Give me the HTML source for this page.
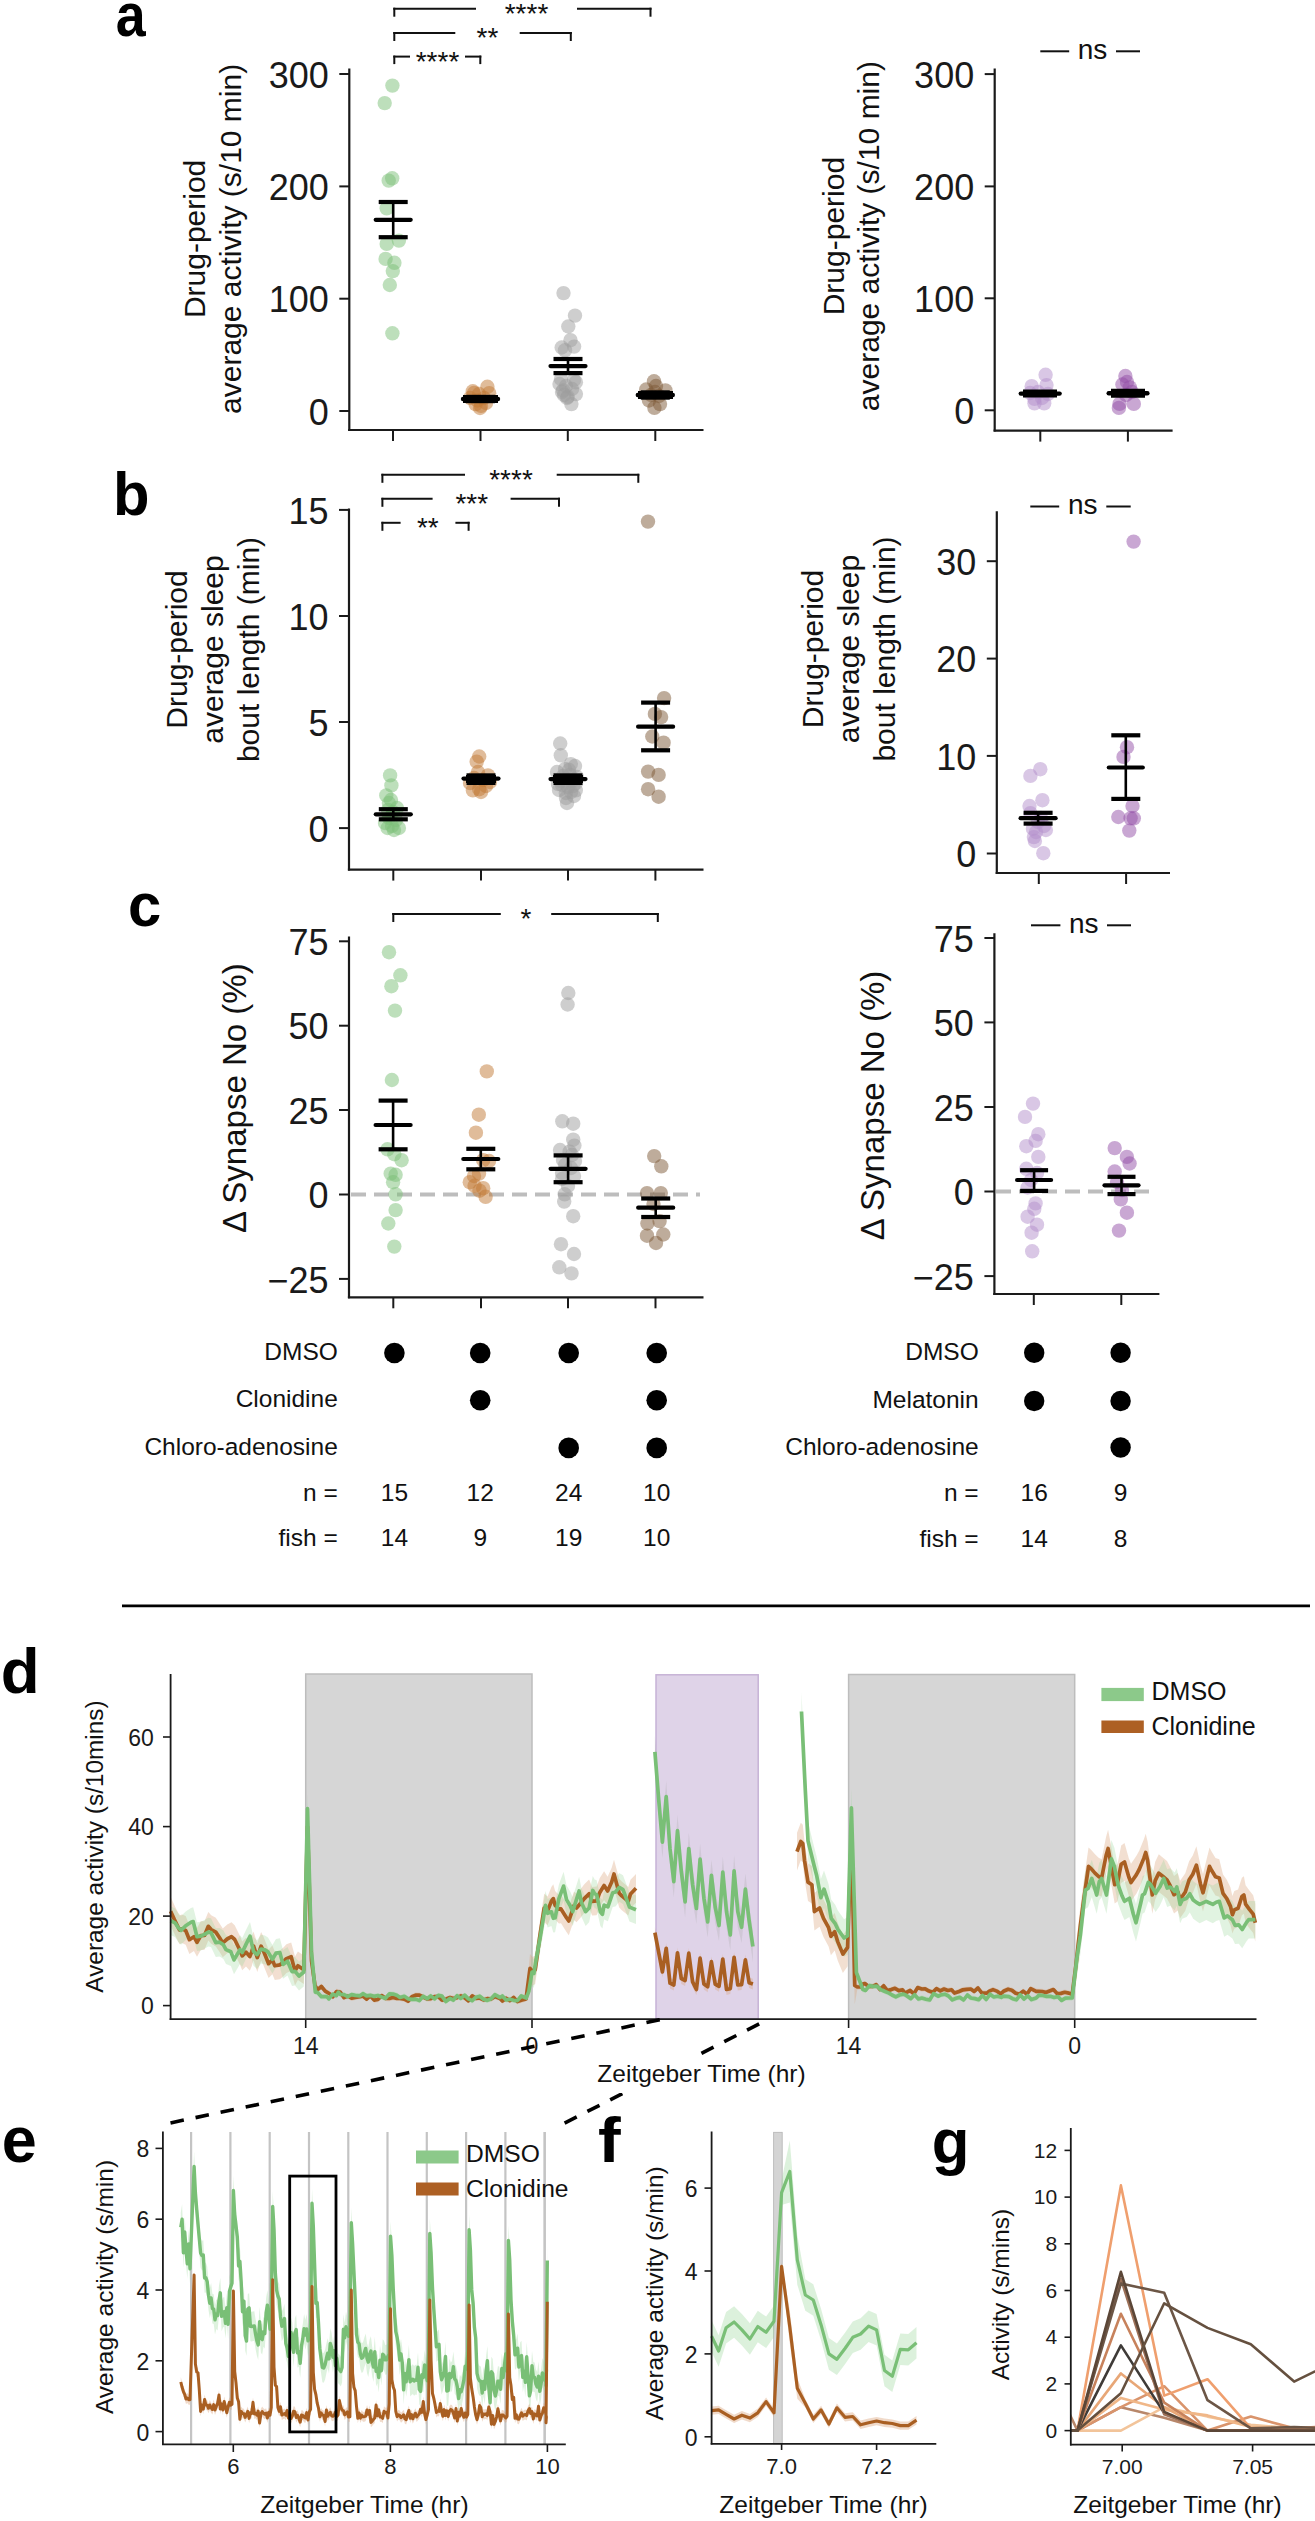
<!DOCTYPE html>
<html><head><meta charset="utf-8"><style>
html,body{margin:0;padding:0;background:#fff;width:1315px;height:2521px;overflow:hidden}
svg{display:block}
text{font-family:"Liberation Sans", sans-serif}
</style></head><body>
<svg width="1315" height="2521" viewBox="0 0 1315 2521">
<rect width="1315" height="2521" fill="#fff"/>
<text transform="translate(115.7,36.2) scale(0.875,1)" font-size="61.4" font-weight="bold" fill="#000">a</text>
<line x1="349.3" y1="68.5" x2="349.3" y2="431" stroke="#1a1a1a" stroke-width="2.2" stroke-linecap="butt" />
<line x1="348.2" y1="430" x2="703.5" y2="430" stroke="#1a1a1a" stroke-width="2.2" stroke-linecap="butt" />
<line x1="339.3" y1="74" x2="349.3" y2="74" stroke="#1a1a1a" stroke-width="2" stroke-linecap="butt" />
<text x="328.8" y="87.7" font-size="36" text-anchor="end" font-weight="normal" fill="#1a1a1a" >300</text>
<line x1="339.3" y1="186.4" x2="349.3" y2="186.4" stroke="#1a1a1a" stroke-width="2" stroke-linecap="butt" />
<text x="328.8" y="200.1" font-size="36" text-anchor="end" font-weight="normal" fill="#1a1a1a" >200</text>
<line x1="339.3" y1="298.7" x2="349.3" y2="298.7" stroke="#1a1a1a" stroke-width="2" stroke-linecap="butt" />
<text x="328.8" y="312.4" font-size="36" text-anchor="end" font-weight="normal" fill="#1a1a1a" >100</text>
<line x1="339.3" y1="411" x2="349.3" y2="411" stroke="#1a1a1a" stroke-width="2" stroke-linecap="butt" />
<text x="328.8" y="424.7" font-size="36" text-anchor="end" font-weight="normal" fill="#1a1a1a" >0</text>
<line x1="393" y1="430" x2="393" y2="441" stroke="#1a1a1a" stroke-width="2" stroke-linecap="butt" />
<line x1="480.5" y1="430" x2="480.5" y2="441" stroke="#1a1a1a" stroke-width="2" stroke-linecap="butt" />
<line x1="567.8" y1="430" x2="567.8" y2="441" stroke="#1a1a1a" stroke-width="2" stroke-linecap="butt" />
<line x1="655.3" y1="430" x2="655.3" y2="441" stroke="#1a1a1a" stroke-width="2" stroke-linecap="butt" />
<text transform="translate(204.9,238.9) rotate(-90)" font-size="30" text-anchor="middle" font-weight="normal" fill="#111" >Drug-period</text>
<text transform="translate(240.6,238.9) rotate(-90)" font-size="30" text-anchor="middle" font-weight="normal" fill="#111" >average activity (s/10 min)</text>
<line x1="394.3" y1="16.7" x2="394.3" y2="7.7" stroke="#111" stroke-width="2" stroke-linecap="butt" />
<line x1="393.3" y1="8.7" x2="476" y2="8.7" stroke="#111" stroke-width="2" stroke-linecap="butt" />
<line x1="577" y1="8.7" x2="651.5" y2="8.7" stroke="#111" stroke-width="2" stroke-linecap="butt" />
<line x1="650.5" y1="7.7" x2="650.5" y2="16.7" stroke="#111" stroke-width="2" stroke-linecap="butt" />
<text x="526.5" y="22.6" font-size="28" text-anchor="middle" font-weight="normal" fill="#111" >****</text>
<line x1="394.3" y1="41" x2="394.3" y2="32" stroke="#111" stroke-width="2" stroke-linecap="butt" />
<line x1="393.3" y1="33" x2="455.3" y2="33" stroke="#111" stroke-width="2" stroke-linecap="butt" />
<line x1="519.7" y1="33" x2="571.8" y2="33" stroke="#111" stroke-width="2" stroke-linecap="butt" />
<line x1="570.8" y1="32" x2="570.8" y2="41" stroke="#111" stroke-width="2" stroke-linecap="butt" />
<text x="487.5" y="46.9" font-size="28" text-anchor="middle" font-weight="normal" fill="#111" >**</text>
<line x1="394.3" y1="64.1" x2="394.3" y2="55.6" stroke="#111" stroke-width="2" stroke-linecap="butt" />
<line x1="393.3" y1="56.6" x2="410" y2="56.6" stroke="#111" stroke-width="2" stroke-linecap="butt" />
<line x1="465" y1="56.6" x2="481.3" y2="56.6" stroke="#111" stroke-width="2" stroke-linecap="butt" />
<line x1="480.3" y1="55.6" x2="480.3" y2="64.1" stroke="#111" stroke-width="2" stroke-linecap="butt" />
<text x="437.5" y="70.5" font-size="28" text-anchor="middle" font-weight="normal" fill="#111" >****</text>
<circle cx="392.4" cy="85.6" r="7.2" fill="#7cbf78" fill-opacity="0.5"/>
<circle cx="384.7" cy="103.1" r="7.2" fill="#7cbf78" fill-opacity="0.5"/>
<circle cx="392.2" cy="178.3" r="7.2" fill="#7cbf78" fill-opacity="0.5"/>
<circle cx="388.7" cy="180.6" r="7.2" fill="#7cbf78" fill-opacity="0.5"/>
<circle cx="386.7" cy="208.3" r="7.2" fill="#7cbf78" fill-opacity="0.5"/>
<circle cx="386.7" cy="243.9" r="7.2" fill="#7cbf78" fill-opacity="0.5"/>
<circle cx="398.9" cy="240.6" r="7.2" fill="#7cbf78" fill-opacity="0.5"/>
<circle cx="385.6" cy="258.9" r="7.2" fill="#7cbf78" fill-opacity="0.5"/>
<circle cx="394.4" cy="262.8" r="7.2" fill="#7cbf78" fill-opacity="0.5"/>
<circle cx="392.8" cy="271.1" r="7.2" fill="#7cbf78" fill-opacity="0.5"/>
<circle cx="389.8" cy="285" r="7.2" fill="#7cbf78" fill-opacity="0.5"/>
<circle cx="392.4" cy="333.3" r="7.2" fill="#7cbf78" fill-opacity="0.5"/>
<line x1="393.2" y1="237.2" x2="393.2" y2="202" stroke="#000" stroke-width="2.6" stroke-linecap="butt" />
<line x1="378.7" y1="237.2" x2="407.7" y2="237.2" stroke="#000" stroke-width="4.2" stroke-linecap="butt" />
<line x1="378.7" y1="202" x2="407.7" y2="202" stroke="#000" stroke-width="4.2" stroke-linecap="butt" />
<line x1="375.7" y1="219.8" x2="410.7" y2="219.8" stroke="#000" stroke-width="4.2" stroke-linecap="round" />
<circle cx="472.8" cy="391.3" r="7.2" fill="#c27a35" fill-opacity="0.5"/>
<circle cx="487.4" cy="386.8" r="7.2" fill="#c27a35" fill-opacity="0.5"/>
<circle cx="477.4" cy="400.5" r="7.2" fill="#c27a35" fill-opacity="0.5"/>
<circle cx="489.2" cy="393.2" r="7.2" fill="#c27a35" fill-opacity="0.5"/>
<circle cx="481" cy="405.9" r="7.2" fill="#c27a35" fill-opacity="0.5"/>
<circle cx="475.6" cy="404.1" r="7.2" fill="#c27a35" fill-opacity="0.5"/>
<circle cx="470" cy="398" r="7.2" fill="#c27a35" fill-opacity="0.5"/>
<circle cx="484" cy="398" r="7.2" fill="#c27a35" fill-opacity="0.5"/>
<circle cx="479" cy="394" r="7.2" fill="#c27a35" fill-opacity="0.5"/>
<circle cx="486" cy="403" r="7.2" fill="#c27a35" fill-opacity="0.5"/>
<circle cx="474" cy="393" r="7.2" fill="#c27a35" fill-opacity="0.5"/>
<circle cx="480" cy="408" r="7.2" fill="#c27a35" fill-opacity="0.5"/>
<line x1="480.5" y1="401" x2="480.5" y2="397" stroke="#000" stroke-width="2.6" stroke-linecap="butt" />
<line x1="466" y1="401" x2="495" y2="401" stroke="#000" stroke-width="4.4" stroke-linecap="butt" />
<line x1="466" y1="397" x2="495" y2="397" stroke="#000" stroke-width="4.4" stroke-linecap="butt" />
<line x1="463" y1="399" x2="498" y2="399" stroke="#000" stroke-width="4.4" stroke-linecap="round" />
<line x1="463" y1="399" x2="498" y2="399" stroke="#000" stroke-width="8" stroke-linecap="butt" />
<circle cx="563.5" cy="293.1" r="7.2" fill="#9e9e9e" fill-opacity="0.5"/>
<circle cx="575" cy="315.6" r="7.2" fill="#9e9e9e" fill-opacity="0.5"/>
<circle cx="568.3" cy="326.5" r="7.2" fill="#9e9e9e" fill-opacity="0.5"/>
<circle cx="570.5" cy="340.2" r="7.2" fill="#9e9e9e" fill-opacity="0.5"/>
<circle cx="561.7" cy="347.5" r="7.2" fill="#9e9e9e" fill-opacity="0.5"/>
<circle cx="574.1" cy="346.6" r="7.2" fill="#9e9e9e" fill-opacity="0.5"/>
<circle cx="565" cy="350.3" r="7.2" fill="#9e9e9e" fill-opacity="0.5"/>
<circle cx="559.5" cy="384" r="7.2" fill="#9e9e9e" fill-opacity="0.5"/>
<circle cx="575.9" cy="382.2" r="7.2" fill="#9e9e9e" fill-opacity="0.5"/>
<circle cx="563.2" cy="390.4" r="7.2" fill="#9e9e9e" fill-opacity="0.5"/>
<circle cx="575.9" cy="394.1" r="7.2" fill="#9e9e9e" fill-opacity="0.5"/>
<circle cx="567.7" cy="396.8" r="7.2" fill="#9e9e9e" fill-opacity="0.5"/>
<circle cx="571.4" cy="404.1" r="7.2" fill="#9e9e9e" fill-opacity="0.5"/>
<circle cx="561" cy="379" r="7.2" fill="#9e9e9e" fill-opacity="0.5"/>
<circle cx="566" cy="386" r="7.2" fill="#9e9e9e" fill-opacity="0.5"/>
<circle cx="572" cy="389" r="7.2" fill="#9e9e9e" fill-opacity="0.5"/>
<circle cx="564" cy="395" r="7.2" fill="#9e9e9e" fill-opacity="0.5"/>
<circle cx="567" cy="398" r="7.2" fill="#9e9e9e" fill-opacity="0.5"/>
<circle cx="562" cy="392" r="7.2" fill="#9e9e9e" fill-opacity="0.5"/>
<circle cx="574" cy="380" r="7.2" fill="#9e9e9e" fill-opacity="0.5"/>
<line x1="568" y1="373.1" x2="568" y2="359" stroke="#000" stroke-width="2.6" stroke-linecap="butt" />
<line x1="553.5" y1="373.1" x2="582.5" y2="373.1" stroke="#000" stroke-width="4.2" stroke-linecap="butt" />
<line x1="553.5" y1="359" x2="582.5" y2="359" stroke="#000" stroke-width="4.2" stroke-linecap="butt" />
<line x1="550.5" y1="366.1" x2="585.5" y2="366.1" stroke="#000" stroke-width="4.2" stroke-linecap="round" />
<circle cx="654" cy="381.3" r="7.2" fill="#7d5a38" fill-opacity="0.5"/>
<circle cx="656" cy="386" r="7.2" fill="#7d5a38" fill-opacity="0.5"/>
<circle cx="646.2" cy="389.5" r="7.2" fill="#7d5a38" fill-opacity="0.5"/>
<circle cx="665.4" cy="390.4" r="7.2" fill="#7d5a38" fill-opacity="0.5"/>
<circle cx="649" cy="400.5" r="7.2" fill="#7d5a38" fill-opacity="0.5"/>
<circle cx="660" cy="404.1" r="7.2" fill="#7d5a38" fill-opacity="0.5"/>
<circle cx="654.4" cy="407.8" r="7.2" fill="#7d5a38" fill-opacity="0.5"/>
<circle cx="651" cy="395" r="7.2" fill="#7d5a38" fill-opacity="0.5"/>
<circle cx="659" cy="396" r="7.2" fill="#7d5a38" fill-opacity="0.5"/>
<circle cx="655" cy="392" r="7.2" fill="#7d5a38" fill-opacity="0.5"/>
<line x1="655.3" y1="397.5" x2="655.3" y2="392.5" stroke="#000" stroke-width="2.6" stroke-linecap="butt" />
<line x1="640.8" y1="397.5" x2="669.8" y2="397.5" stroke="#000" stroke-width="4.4" stroke-linecap="butt" />
<line x1="640.8" y1="392.5" x2="669.8" y2="392.5" stroke="#000" stroke-width="4.4" stroke-linecap="butt" />
<line x1="637.8" y1="395" x2="672.8" y2="395" stroke="#000" stroke-width="4.4" stroke-linecap="round" />
<line x1="638" y1="395" x2="673" y2="395" stroke="#000" stroke-width="8" stroke-linecap="butt" />
<line x1="994.7" y1="68.5" x2="994.7" y2="431.6" stroke="#1a1a1a" stroke-width="2.2" stroke-linecap="butt" />
<line x1="993.6" y1="430.6" x2="1172.6" y2="430.6" stroke="#1a1a1a" stroke-width="2.2" stroke-linecap="butt" />
<line x1="984.7" y1="74.1" x2="994.7" y2="74.1" stroke="#1a1a1a" stroke-width="2" stroke-linecap="butt" />
<text x="974.2" y="87.8" font-size="36" text-anchor="end" font-weight="normal" fill="#1a1a1a" >300</text>
<line x1="984.7" y1="186.4" x2="994.7" y2="186.4" stroke="#1a1a1a" stroke-width="2" stroke-linecap="butt" />
<text x="974.2" y="200.1" font-size="36" text-anchor="end" font-weight="normal" fill="#1a1a1a" >200</text>
<line x1="984.7" y1="298.3" x2="994.7" y2="298.3" stroke="#1a1a1a" stroke-width="2" stroke-linecap="butt" />
<text x="974.2" y="312" font-size="36" text-anchor="end" font-weight="normal" fill="#1a1a1a" >100</text>
<line x1="984.7" y1="410.3" x2="994.7" y2="410.3" stroke="#1a1a1a" stroke-width="2" stroke-linecap="butt" />
<text x="974.2" y="424" font-size="36" text-anchor="end" font-weight="normal" fill="#1a1a1a" >0</text>
<line x1="1040.3" y1="430.6" x2="1040.3" y2="441.6" stroke="#1a1a1a" stroke-width="2" stroke-linecap="butt" />
<line x1="1127.9" y1="430.6" x2="1127.9" y2="441.6" stroke="#1a1a1a" stroke-width="2" stroke-linecap="butt" />
<text transform="translate(843.9,236.1) rotate(-90)" font-size="30" text-anchor="middle" font-weight="normal" fill="#111" >Drug-period</text>
<text transform="translate(879.3,236.1) rotate(-90)" font-size="30" text-anchor="middle" font-weight="normal" fill="#111" >average activity (s/10 min)</text>
<line x1="1040.3" y1="51.3" x2="1069.2" y2="51.3" stroke="#111" stroke-width="2" stroke-linecap="butt" />
<line x1="1116" y1="51.3" x2="1140" y2="51.3" stroke="#111" stroke-width="2" stroke-linecap="butt" />
<text x="1092.6" y="58.9" font-size="28" text-anchor="middle" font-weight="normal" fill="#111" >ns</text>
<circle cx="1045.6" cy="374.8" r="7.2" fill="#b490cc" fill-opacity="0.5"/>
<circle cx="1031.7" cy="386.2" r="7.2" fill="#b490cc" fill-opacity="0.5"/>
<circle cx="1046.5" cy="385.1" r="7.2" fill="#b490cc" fill-opacity="0.5"/>
<circle cx="1034.5" cy="398.8" r="7.2" fill="#b490cc" fill-opacity="0.5"/>
<circle cx="1042" cy="398" r="7.2" fill="#b490cc" fill-opacity="0.5"/>
<circle cx="1034.5" cy="403.3" r="7.2" fill="#b490cc" fill-opacity="0.5"/>
<circle cx="1044.2" cy="403.3" r="7.2" fill="#b490cc" fill-opacity="0.5"/>
<circle cx="1038" cy="392" r="7.2" fill="#b490cc" fill-opacity="0.5"/>
<circle cx="1048" cy="394" r="7.2" fill="#b490cc" fill-opacity="0.5"/>
<circle cx="1030" cy="393" r="7.2" fill="#b490cc" fill-opacity="0.5"/>
<line x1="1023" y1="393.6" x2="1057" y2="393.6" stroke="#000" stroke-width="8" stroke-linecap="butt" />
<line x1="1020.8" y1="393.6" x2="1059.6" y2="393.6" stroke="#000" stroke-width="4.4" stroke-linecap="round" />
<circle cx="1125.4" cy="376" r="7.2" fill="#9450a8" fill-opacity="0.5"/>
<circle cx="1127" cy="382" r="7.2" fill="#9450a8" fill-opacity="0.5"/>
<circle cx="1122.4" cy="384.5" r="7.2" fill="#9450a8" fill-opacity="0.5"/>
<circle cx="1129.8" cy="387.4" r="7.2" fill="#9450a8" fill-opacity="0.5"/>
<circle cx="1119.5" cy="403.9" r="7.2" fill="#9450a8" fill-opacity="0.5"/>
<circle cx="1118.9" cy="407.9" r="7.2" fill="#9450a8" fill-opacity="0.5"/>
<circle cx="1133.8" cy="403.9" r="7.2" fill="#9450a8" fill-opacity="0.5"/>
<circle cx="1126" cy="395" r="7.2" fill="#9450a8" fill-opacity="0.5"/>
<circle cx="1132" cy="392" r="7.2" fill="#9450a8" fill-opacity="0.5"/>
<line x1="1111" y1="393.3" x2="1145" y2="393.3" stroke="#000" stroke-width="9" stroke-linecap="butt" />
<line x1="1108.7" y1="393.3" x2="1147.4" y2="393.3" stroke="#000" stroke-width="4.4" stroke-linecap="round" />
<text transform="translate(113,514.8) scale(0.986,1)" font-size="60.6" font-weight="bold" fill="#000">b</text>
<line x1="349" y1="508.5" x2="349" y2="870.6" stroke="#1a1a1a" stroke-width="2.2" stroke-linecap="butt" />
<line x1="347.9" y1="869.6" x2="703.5" y2="869.6" stroke="#1a1a1a" stroke-width="2.2" stroke-linecap="butt" />
<line x1="339" y1="509.9" x2="349" y2="509.9" stroke="#1a1a1a" stroke-width="2" stroke-linecap="butt" />
<text x="328.5" y="523.6" font-size="36" text-anchor="end" font-weight="normal" fill="#1a1a1a" >15</text>
<line x1="339" y1="616" x2="349" y2="616" stroke="#1a1a1a" stroke-width="2" stroke-linecap="butt" />
<text x="328.5" y="629.7" font-size="36" text-anchor="end" font-weight="normal" fill="#1a1a1a" >10</text>
<line x1="339" y1="722" x2="349" y2="722" stroke="#1a1a1a" stroke-width="2" stroke-linecap="butt" />
<text x="328.5" y="735.7" font-size="36" text-anchor="end" font-weight="normal" fill="#1a1a1a" >5</text>
<line x1="339" y1="828.1" x2="349" y2="828.1" stroke="#1a1a1a" stroke-width="2" stroke-linecap="butt" />
<text x="328.5" y="841.8" font-size="36" text-anchor="end" font-weight="normal" fill="#1a1a1a" >0</text>
<line x1="393.3" y1="869.6" x2="393.3" y2="880.6" stroke="#1a1a1a" stroke-width="2" stroke-linecap="butt" />
<line x1="481" y1="869.6" x2="481" y2="880.6" stroke="#1a1a1a" stroke-width="2" stroke-linecap="butt" />
<line x1="568" y1="869.6" x2="568" y2="880.6" stroke="#1a1a1a" stroke-width="2" stroke-linecap="butt" />
<line x1="655.4" y1="869.6" x2="655.4" y2="880.6" stroke="#1a1a1a" stroke-width="2" stroke-linecap="butt" />
<text transform="translate(187.4,649.5) rotate(-90)" font-size="30" text-anchor="middle" font-weight="normal" fill="#111" >Drug-period</text>
<text transform="translate(223,649.5) rotate(-90)" font-size="30" text-anchor="middle" font-weight="normal" fill="#111" >average sleep</text>
<text transform="translate(259.1,649.5) rotate(-90)" font-size="30" text-anchor="middle" font-weight="normal" fill="#111" >bout length (min)</text>
<line x1="382.4" y1="482.8" x2="382.4" y2="473.8" stroke="#111" stroke-width="2" stroke-linecap="butt" />
<line x1="381.4" y1="474.8" x2="465" y2="474.8" stroke="#111" stroke-width="2" stroke-linecap="butt" />
<line x1="556.7" y1="474.8" x2="639.3" y2="474.8" stroke="#111" stroke-width="2" stroke-linecap="butt" />
<line x1="638.3" y1="473.8" x2="638.3" y2="482.8" stroke="#111" stroke-width="2" stroke-linecap="butt" />
<text x="511" y="488.7" font-size="28" text-anchor="middle" font-weight="normal" fill="#111" >****</text>
<line x1="382.4" y1="506.8" x2="382.4" y2="497.8" stroke="#111" stroke-width="2" stroke-linecap="butt" />
<line x1="381.4" y1="498.8" x2="432.6" y2="498.8" stroke="#111" stroke-width="2" stroke-linecap="butt" />
<line x1="510.6" y1="498.8" x2="560" y2="498.8" stroke="#111" stroke-width="2" stroke-linecap="butt" />
<line x1="559" y1="497.8" x2="559" y2="506.8" stroke="#111" stroke-width="2" stroke-linecap="butt" />
<text x="471.8" y="512.7" font-size="28" text-anchor="middle" font-weight="normal" fill="#111" >***</text>
<line x1="382.4" y1="530.8" x2="382.4" y2="521.8" stroke="#111" stroke-width="2" stroke-linecap="butt" />
<line x1="381.4" y1="522.8" x2="400.6" y2="522.8" stroke="#111" stroke-width="2" stroke-linecap="butt" />
<line x1="455.4" y1="522.8" x2="469.6" y2="522.8" stroke="#111" stroke-width="2" stroke-linecap="butt" />
<line x1="468.6" y1="521.8" x2="468.6" y2="530.8" stroke="#111" stroke-width="2" stroke-linecap="butt" />
<text x="427.8" y="536.7" font-size="28" text-anchor="middle" font-weight="normal" fill="#111" >**</text>
<circle cx="390.1" cy="775.4" r="7.2" fill="#7cbf78" fill-opacity="0.5"/>
<circle cx="391.4" cy="785.4" r="7.2" fill="#7cbf78" fill-opacity="0.5"/>
<circle cx="386.3" cy="795.4" r="7.2" fill="#7cbf78" fill-opacity="0.5"/>
<circle cx="388.9" cy="803" r="7.2" fill="#7cbf78" fill-opacity="0.5"/>
<circle cx="387.6" cy="828" r="7.2" fill="#7cbf78" fill-opacity="0.5"/>
<circle cx="398.9" cy="828" r="7.2" fill="#7cbf78" fill-opacity="0.5"/>
<circle cx="393" cy="812" r="7.2" fill="#7cbf78" fill-opacity="0.5"/>
<circle cx="396" cy="820" r="7.2" fill="#7cbf78" fill-opacity="0.5"/>
<circle cx="389" cy="818" r="7.2" fill="#7cbf78" fill-opacity="0.5"/>
<circle cx="392" cy="826" r="7.2" fill="#7cbf78" fill-opacity="0.5"/>
<circle cx="385" cy="823" r="7.2" fill="#7cbf78" fill-opacity="0.5"/>
<circle cx="397" cy="808" r="7.2" fill="#7cbf78" fill-opacity="0.5"/>
<circle cx="394" cy="830" r="7.2" fill="#7cbf78" fill-opacity="0.5"/>
<circle cx="388" cy="810" r="7.2" fill="#7cbf78" fill-opacity="0.5"/>
<circle cx="391" cy="800" r="7.2" fill="#7cbf78" fill-opacity="0.5"/>
<line x1="393.3" y1="819.3" x2="393.3" y2="809.2" stroke="#000" stroke-width="2.6" stroke-linecap="butt" />
<line x1="378.8" y1="819.3" x2="407.8" y2="819.3" stroke="#000" stroke-width="4.2" stroke-linecap="butt" />
<line x1="378.8" y1="809.2" x2="407.8" y2="809.2" stroke="#000" stroke-width="4.2" stroke-linecap="butt" />
<line x1="375.8" y1="814.3" x2="410.8" y2="814.3" stroke="#000" stroke-width="4.2" stroke-linecap="round" />
<circle cx="479.2" cy="756.5" r="7.2" fill="#c27a35" fill-opacity="0.5"/>
<circle cx="476.7" cy="761.6" r="7.2" fill="#c27a35" fill-opacity="0.5"/>
<circle cx="488" cy="775.4" r="7.2" fill="#c27a35" fill-opacity="0.5"/>
<circle cx="472.9" cy="790.4" r="7.2" fill="#c27a35" fill-opacity="0.5"/>
<circle cx="479.2" cy="789.2" r="7.2" fill="#c27a35" fill-opacity="0.5"/>
<circle cx="483" cy="780" r="7.2" fill="#c27a35" fill-opacity="0.5"/>
<circle cx="474" cy="778" r="7.2" fill="#c27a35" fill-opacity="0.5"/>
<circle cx="486" cy="786" r="7.2" fill="#c27a35" fill-opacity="0.5"/>
<circle cx="478" cy="772" r="7.2" fill="#c27a35" fill-opacity="0.5"/>
<circle cx="470" cy="783" r="7.2" fill="#c27a35" fill-opacity="0.5"/>
<circle cx="490" cy="782" r="7.2" fill="#c27a35" fill-opacity="0.5"/>
<circle cx="481" cy="792" r="7.2" fill="#c27a35" fill-opacity="0.5"/>
<line x1="481" y1="782.9" x2="481" y2="775.4" stroke="#000" stroke-width="2.6" stroke-linecap="butt" />
<line x1="466.5" y1="782.9" x2="495.5" y2="782.9" stroke="#000" stroke-width="4.2" stroke-linecap="butt" />
<line x1="466.5" y1="775.4" x2="495.5" y2="775.4" stroke="#000" stroke-width="4.2" stroke-linecap="butt" />
<line x1="463.5" y1="778.6" x2="498.5" y2="778.6" stroke="#000" stroke-width="4.2" stroke-linecap="round" />
<line x1="466" y1="779" x2="496" y2="779" stroke="#000" stroke-width="8" stroke-linecap="butt" />
<circle cx="560.2" cy="743.5" r="7.2" fill="#9e9e9e" fill-opacity="0.5"/>
<circle cx="560.8" cy="755.3" r="7.2" fill="#9e9e9e" fill-opacity="0.5"/>
<circle cx="570.8" cy="764.1" r="7.2" fill="#9e9e9e" fill-opacity="0.5"/>
<circle cx="575" cy="766" r="7.2" fill="#9e9e9e" fill-opacity="0.5"/>
<circle cx="565" cy="769" r="7.2" fill="#9e9e9e" fill-opacity="0.5"/>
<circle cx="557" cy="772" r="7.2" fill="#9e9e9e" fill-opacity="0.5"/>
<circle cx="575.8" cy="790.4" r="7.2" fill="#9e9e9e" fill-opacity="0.5"/>
<circle cx="565.8" cy="793" r="7.2" fill="#9e9e9e" fill-opacity="0.5"/>
<circle cx="567" cy="803" r="7.2" fill="#9e9e9e" fill-opacity="0.5"/>
<circle cx="572" cy="781" r="7.2" fill="#9e9e9e" fill-opacity="0.5"/>
<circle cx="562" cy="785" r="7.2" fill="#9e9e9e" fill-opacity="0.5"/>
<circle cx="570" cy="775" r="7.2" fill="#9e9e9e" fill-opacity="0.5"/>
<circle cx="577" cy="777" r="7.2" fill="#9e9e9e" fill-opacity="0.5"/>
<circle cx="559" cy="790" r="7.2" fill="#9e9e9e" fill-opacity="0.5"/>
<circle cx="568" cy="787" r="7.2" fill="#9e9e9e" fill-opacity="0.5"/>
<circle cx="563" cy="776" r="7.2" fill="#9e9e9e" fill-opacity="0.5"/>
<circle cx="574" cy="796" r="7.2" fill="#9e9e9e" fill-opacity="0.5"/>
<circle cx="569" cy="770" r="7.2" fill="#9e9e9e" fill-opacity="0.5"/>
<circle cx="561" cy="781" r="7.2" fill="#9e9e9e" fill-opacity="0.5"/>
<circle cx="573" cy="786" r="7.2" fill="#9e9e9e" fill-opacity="0.5"/>
<circle cx="566" cy="798" r="7.2" fill="#9e9e9e" fill-opacity="0.5"/>
<circle cx="571" cy="792" r="7.2" fill="#9e9e9e" fill-opacity="0.5"/>
<circle cx="558" cy="784" r="7.2" fill="#9e9e9e" fill-opacity="0.5"/>
<circle cx="576" cy="783" r="7.2" fill="#9e9e9e" fill-opacity="0.5"/>
<line x1="568" y1="782.9" x2="568" y2="775.4" stroke="#000" stroke-width="2.6" stroke-linecap="butt" />
<line x1="553.5" y1="782.9" x2="582.5" y2="782.9" stroke="#000" stroke-width="4.2" stroke-linecap="butt" />
<line x1="553.5" y1="775.4" x2="582.5" y2="775.4" stroke="#000" stroke-width="4.2" stroke-linecap="butt" />
<line x1="550.5" y1="779.1" x2="585.5" y2="779.1" stroke="#000" stroke-width="4.2" stroke-linecap="round" />
<line x1="553" y1="779" x2="583" y2="779" stroke="#000" stroke-width="8" stroke-linecap="butt" />
<circle cx="648" cy="521.6" r="7.2" fill="#7d5a38" fill-opacity="0.5"/>
<circle cx="664.1" cy="698.1" r="7.2" fill="#7d5a38" fill-opacity="0.5"/>
<circle cx="654.9" cy="713.9" r="7.2" fill="#7d5a38" fill-opacity="0.5"/>
<circle cx="661.1" cy="717.1" r="7.2" fill="#7d5a38" fill-opacity="0.5"/>
<circle cx="652.3" cy="736.5" r="7.2" fill="#7d5a38" fill-opacity="0.5"/>
<circle cx="663.6" cy="742.7" r="7.2" fill="#7d5a38" fill-opacity="0.5"/>
<circle cx="648.1" cy="771.6" r="7.2" fill="#7d5a38" fill-opacity="0.5"/>
<circle cx="658.6" cy="774.9" r="7.2" fill="#7d5a38" fill-opacity="0.5"/>
<circle cx="648.1" cy="789.2" r="7.2" fill="#7d5a38" fill-opacity="0.5"/>
<circle cx="658.6" cy="796.7" r="7.2" fill="#7d5a38" fill-opacity="0.5"/>
<line x1="655.6" y1="750.3" x2="655.6" y2="702.6" stroke="#000" stroke-width="2.6" stroke-linecap="butt" />
<line x1="641.1" y1="750.3" x2="670.1" y2="750.3" stroke="#000" stroke-width="4.2" stroke-linecap="butt" />
<line x1="641.1" y1="702.6" x2="670.1" y2="702.6" stroke="#000" stroke-width="4.2" stroke-linecap="butt" />
<line x1="638.1" y1="726.7" x2="673.1" y2="726.7" stroke="#000" stroke-width="4.2" stroke-linecap="round" />
<line x1="996.8" y1="511.3" x2="996.8" y2="874" stroke="#1a1a1a" stroke-width="2.2" stroke-linecap="butt" />
<line x1="995.7" y1="873" x2="1170" y2="873" stroke="#1a1a1a" stroke-width="2.2" stroke-linecap="butt" />
<line x1="986.8" y1="561.2" x2="996.8" y2="561.2" stroke="#1a1a1a" stroke-width="2" stroke-linecap="butt" />
<text x="976.3" y="574.9" font-size="36" text-anchor="end" font-weight="normal" fill="#1a1a1a" >30</text>
<line x1="986.8" y1="658.6" x2="996.8" y2="658.6" stroke="#1a1a1a" stroke-width="2" stroke-linecap="butt" />
<text x="976.3" y="672.3" font-size="36" text-anchor="end" font-weight="normal" fill="#1a1a1a" >20</text>
<line x1="986.8" y1="755.9" x2="996.8" y2="755.9" stroke="#1a1a1a" stroke-width="2" stroke-linecap="butt" />
<text x="976.3" y="769.6" font-size="36" text-anchor="end" font-weight="normal" fill="#1a1a1a" >10</text>
<line x1="986.8" y1="853.5" x2="996.8" y2="853.5" stroke="#1a1a1a" stroke-width="2" stroke-linecap="butt" />
<text x="976.3" y="867.2" font-size="36" text-anchor="end" font-weight="normal" fill="#1a1a1a" >0</text>
<line x1="1038.8" y1="873" x2="1038.8" y2="884" stroke="#1a1a1a" stroke-width="2" stroke-linecap="butt" />
<line x1="1126.1" y1="873" x2="1126.1" y2="884" stroke="#1a1a1a" stroke-width="2" stroke-linecap="butt" />
<text transform="translate(823,649) rotate(-90)" font-size="30" text-anchor="middle" font-weight="normal" fill="#111" >Drug-period</text>
<text transform="translate(859,649) rotate(-90)" font-size="30" text-anchor="middle" font-weight="normal" fill="#111" >average sleep</text>
<text transform="translate(894.5,649) rotate(-90)" font-size="30" text-anchor="middle" font-weight="normal" fill="#111" >bout length (min)</text>
<line x1="1030.3" y1="506.5" x2="1059.2" y2="506.5" stroke="#111" stroke-width="2" stroke-linecap="butt" />
<line x1="1106.3" y1="506.5" x2="1130.7" y2="506.5" stroke="#111" stroke-width="2" stroke-linecap="butt" />
<text x="1082.8" y="514.1" font-size="28" text-anchor="middle" font-weight="normal" fill="#111" >ns</text>
<circle cx="1040.3" cy="769.2" r="7.2" fill="#b490cc" fill-opacity="0.5"/>
<circle cx="1030.4" cy="775.9" r="7.2" fill="#b490cc" fill-opacity="0.5"/>
<circle cx="1042.4" cy="800.2" r="7.2" fill="#b490cc" fill-opacity="0.5"/>
<circle cx="1029.5" cy="806" r="7.2" fill="#b490cc" fill-opacity="0.5"/>
<circle cx="1030.4" cy="813.2" r="7.2" fill="#b490cc" fill-opacity="0.5"/>
<circle cx="1045.9" cy="830" r="7.2" fill="#b490cc" fill-opacity="0.5"/>
<circle cx="1033" cy="828.7" r="7.2" fill="#b490cc" fill-opacity="0.5"/>
<circle cx="1033.9" cy="837.1" r="7.2" fill="#b490cc" fill-opacity="0.5"/>
<circle cx="1034.9" cy="841" r="7.2" fill="#b490cc" fill-opacity="0.5"/>
<circle cx="1043.3" cy="853.2" r="7.2" fill="#b490cc" fill-opacity="0.5"/>
<circle cx="1038" cy="822" r="7.2" fill="#b490cc" fill-opacity="0.5"/>
<circle cx="1044" cy="826" r="7.2" fill="#b490cc" fill-opacity="0.5"/>
<circle cx="1036" cy="832" r="7.2" fill="#b490cc" fill-opacity="0.5"/>
<circle cx="1041" cy="818" r="7.2" fill="#b490cc" fill-opacity="0.5"/>
<line x1="1038.1" y1="823.6" x2="1038.1" y2="812.8" stroke="#000" stroke-width="2.6" stroke-linecap="butt" />
<line x1="1023.6" y1="823.6" x2="1052.6" y2="823.6" stroke="#000" stroke-width="4.2" stroke-linecap="butt" />
<line x1="1023.6" y1="812.8" x2="1052.6" y2="812.8" stroke="#000" stroke-width="4.2" stroke-linecap="butt" />
<line x1="1020.6" y1="818.2" x2="1055.6" y2="818.2" stroke="#000" stroke-width="4.2" stroke-linecap="round" />
<circle cx="1133.6" cy="541.6" r="7.2" fill="#9450a8" fill-opacity="0.5"/>
<circle cx="1127" cy="747.2" r="7.2" fill="#9450a8" fill-opacity="0.5"/>
<circle cx="1123.5" cy="756.9" r="7.2" fill="#9450a8" fill-opacity="0.5"/>
<circle cx="1132.5" cy="806" r="7.2" fill="#9450a8" fill-opacity="0.5"/>
<circle cx="1118.3" cy="817" r="7.2" fill="#9450a8" fill-opacity="0.5"/>
<circle cx="1133.8" cy="818.3" r="7.2" fill="#9450a8" fill-opacity="0.5"/>
<circle cx="1130.6" cy="818.3" r="7.2" fill="#9450a8" fill-opacity="0.5"/>
<circle cx="1129.3" cy="830.6" r="7.2" fill="#9450a8" fill-opacity="0.5"/>
<line x1="1125.8" y1="798.9" x2="1125.8" y2="735.3" stroke="#000" stroke-width="2.6" stroke-linecap="butt" />
<line x1="1111.3" y1="798.9" x2="1140.3" y2="798.9" stroke="#000" stroke-width="4.2" stroke-linecap="butt" />
<line x1="1111.3" y1="735.3" x2="1140.3" y2="735.3" stroke="#000" stroke-width="4.2" stroke-linecap="butt" />
<line x1="1108.8" y1="767.5" x2="1142.8" y2="767.5" stroke="#000" stroke-width="4.2" stroke-linecap="round" />
<text transform="translate(128,925.9) scale(0.98,1)" font-size="61" font-weight="bold" fill="#000">c</text>
<line x1="349" y1="936.6" x2="349" y2="1298.3" stroke="#1a1a1a" stroke-width="2.2" stroke-linecap="butt" />
<line x1="347.9" y1="1297.3" x2="703.5" y2="1297.3" stroke="#1a1a1a" stroke-width="2.2" stroke-linecap="butt" />
<line x1="339" y1="941.3" x2="349" y2="941.3" stroke="#1a1a1a" stroke-width="2" stroke-linecap="butt" />
<text x="328.5" y="955" font-size="36" text-anchor="end" font-weight="normal" fill="#1a1a1a" >75</text>
<line x1="339" y1="1025.7" x2="349" y2="1025.7" stroke="#1a1a1a" stroke-width="2" stroke-linecap="butt" />
<text x="328.5" y="1039.4" font-size="36" text-anchor="end" font-weight="normal" fill="#1a1a1a" >50</text>
<line x1="339" y1="1110" x2="349" y2="1110" stroke="#1a1a1a" stroke-width="2" stroke-linecap="butt" />
<text x="328.5" y="1123.7" font-size="36" text-anchor="end" font-weight="normal" fill="#1a1a1a" >25</text>
<line x1="339" y1="1194.5" x2="349" y2="1194.5" stroke="#1a1a1a" stroke-width="2" stroke-linecap="butt" />
<text x="328.5" y="1208.2" font-size="36" text-anchor="end" font-weight="normal" fill="#1a1a1a" >0</text>
<line x1="339" y1="1278.9" x2="349" y2="1278.9" stroke="#1a1a1a" stroke-width="2" stroke-linecap="butt" />
<text x="328.5" y="1292.6" font-size="36" text-anchor="end" font-weight="normal" fill="#1a1a1a" >−25</text>
<line x1="393.3" y1="1297.3" x2="393.3" y2="1308.3" stroke="#1a1a1a" stroke-width="2" stroke-linecap="butt" />
<line x1="481" y1="1297.3" x2="481" y2="1308.3" stroke="#1a1a1a" stroke-width="2" stroke-linecap="butt" />
<line x1="568" y1="1297.3" x2="568" y2="1308.3" stroke="#1a1a1a" stroke-width="2" stroke-linecap="butt" />
<line x1="655.5" y1="1297.3" x2="655.5" y2="1308.3" stroke="#1a1a1a" stroke-width="2" stroke-linecap="butt" />
<text transform="translate(245.7,1098.2) rotate(-90)" font-size="33" text-anchor="middle" font-weight="normal" fill="#111" >Δ Synapse No (%)</text>
<line x1="393.3" y1="922" x2="393.3" y2="913" stroke="#111" stroke-width="2" stroke-linecap="butt" />
<line x1="392.3" y1="914" x2="500.8" y2="914" stroke="#111" stroke-width="2" stroke-linecap="butt" />
<line x1="551.2" y1="914" x2="658.8" y2="914" stroke="#111" stroke-width="2" stroke-linecap="butt" />
<line x1="657.8" y1="913" x2="657.8" y2="922" stroke="#111" stroke-width="2" stroke-linecap="butt" />
<text x="526" y="927.9" font-size="28" text-anchor="middle" font-weight="normal" fill="#111" >*</text>
<line x1="351" y1="1194.6" x2="700" y2="1194.6" stroke="#bdbdbd" stroke-width="4" stroke-linecap="butt" stroke-dasharray="15,8"/>
<circle cx="389" cy="952.2" r="7.2" fill="#7cbf78" fill-opacity="0.5"/>
<circle cx="400.4" cy="975.3" r="7.2" fill="#7cbf78" fill-opacity="0.5"/>
<circle cx="391.4" cy="986.2" r="7.2" fill="#7cbf78" fill-opacity="0.5"/>
<circle cx="395" cy="1010.6" r="7.2" fill="#7cbf78" fill-opacity="0.5"/>
<circle cx="391.9" cy="1080" r="7.2" fill="#7cbf78" fill-opacity="0.5"/>
<circle cx="387.5" cy="1149.3" r="7.2" fill="#7cbf78" fill-opacity="0.5"/>
<circle cx="394.3" cy="1154.2" r="7.2" fill="#7cbf78" fill-opacity="0.5"/>
<circle cx="401.6" cy="1160.2" r="7.2" fill="#7cbf78" fill-opacity="0.5"/>
<circle cx="390.7" cy="1173.6" r="7.2" fill="#7cbf78" fill-opacity="0.5"/>
<circle cx="395.6" cy="1174.8" r="7.2" fill="#7cbf78" fill-opacity="0.5"/>
<circle cx="393.1" cy="1182.2" r="7.2" fill="#7cbf78" fill-opacity="0.5"/>
<circle cx="395.6" cy="1194.3" r="7.2" fill="#7cbf78" fill-opacity="0.5"/>
<circle cx="395.6" cy="1210.1" r="7.2" fill="#7cbf78" fill-opacity="0.5"/>
<circle cx="388.3" cy="1223.5" r="7.2" fill="#7cbf78" fill-opacity="0.5"/>
<circle cx="394.3" cy="1246.6" r="7.2" fill="#7cbf78" fill-opacity="0.5"/>
<line x1="393.1" y1="1149.3" x2="393.1" y2="1100.6" stroke="#000" stroke-width="2.6" stroke-linecap="butt" />
<line x1="378.6" y1="1149.3" x2="407.6" y2="1149.3" stroke="#000" stroke-width="4.2" stroke-linecap="butt" />
<line x1="378.6" y1="1100.6" x2="407.6" y2="1100.6" stroke="#000" stroke-width="4.2" stroke-linecap="butt" />
<line x1="375.6" y1="1125" x2="410.6" y2="1125" stroke="#000" stroke-width="4.2" stroke-linecap="round" />
<circle cx="486.8" cy="1071.4" r="7.2" fill="#c27a35" fill-opacity="0.5"/>
<circle cx="478.8" cy="1114.7" r="7.2" fill="#c27a35" fill-opacity="0.5"/>
<circle cx="475.9" cy="1132.7" r="7.2" fill="#c27a35" fill-opacity="0.5"/>
<circle cx="483.2" cy="1160.2" r="7.2" fill="#c27a35" fill-opacity="0.5"/>
<circle cx="479" cy="1173.6" r="7.2" fill="#c27a35" fill-opacity="0.5"/>
<circle cx="469.8" cy="1182.2" r="7.2" fill="#c27a35" fill-opacity="0.5"/>
<circle cx="474.6" cy="1185.8" r="7.2" fill="#c27a35" fill-opacity="0.5"/>
<circle cx="483.2" cy="1188.2" r="7.2" fill="#c27a35" fill-opacity="0.5"/>
<circle cx="479.5" cy="1190.7" r="7.2" fill="#c27a35" fill-opacity="0.5"/>
<circle cx="485.6" cy="1196.8" r="7.2" fill="#c27a35" fill-opacity="0.5"/>
<circle cx="489" cy="1161" r="7.2" fill="#c27a35" fill-opacity="0.5"/>
<circle cx="474" cy="1176" r="7.2" fill="#c27a35" fill-opacity="0.5"/>
<line x1="480.8" y1="1169.3" x2="480.8" y2="1148.8" stroke="#000" stroke-width="2.6" stroke-linecap="butt" />
<line x1="466.3" y1="1169.3" x2="495.3" y2="1169.3" stroke="#000" stroke-width="4.2" stroke-linecap="butt" />
<line x1="466.3" y1="1148.8" x2="495.3" y2="1148.8" stroke="#000" stroke-width="4.2" stroke-linecap="butt" />
<line x1="463.3" y1="1159" x2="498.3" y2="1159" stroke="#000" stroke-width="4.2" stroke-linecap="round" />
<circle cx="568.3" cy="993" r="7.2" fill="#9e9e9e" fill-opacity="0.5"/>
<circle cx="567.6" cy="1004.5" r="7.2" fill="#9e9e9e" fill-opacity="0.5"/>
<circle cx="562.3" cy="1121.3" r="7.2" fill="#9e9e9e" fill-opacity="0.5"/>
<circle cx="573.2" cy="1123.7" r="7.2" fill="#9e9e9e" fill-opacity="0.5"/>
<circle cx="573.2" cy="1139.6" r="7.2" fill="#9e9e9e" fill-opacity="0.5"/>
<circle cx="574.4" cy="1145.6" r="7.2" fill="#9e9e9e" fill-opacity="0.5"/>
<circle cx="569.6" cy="1151.7" r="7.2" fill="#9e9e9e" fill-opacity="0.5"/>
<circle cx="563" cy="1160" r="7.2" fill="#9e9e9e" fill-opacity="0.5"/>
<circle cx="575" cy="1161" r="7.2" fill="#9e9e9e" fill-opacity="0.5"/>
<circle cx="562" cy="1173" r="7.2" fill="#9e9e9e" fill-opacity="0.5"/>
<circle cx="574" cy="1176" r="7.2" fill="#9e9e9e" fill-opacity="0.5"/>
<circle cx="562" cy="1179" r="7.2" fill="#9e9e9e" fill-opacity="0.5"/>
<circle cx="565" cy="1165" r="7.2" fill="#9e9e9e" fill-opacity="0.5"/>
<circle cx="571" cy="1168" r="7.2" fill="#9e9e9e" fill-opacity="0.5"/>
<circle cx="564.7" cy="1194.3" r="7.2" fill="#9e9e9e" fill-opacity="0.5"/>
<circle cx="564.2" cy="1201.6" r="7.2" fill="#9e9e9e" fill-opacity="0.5"/>
<circle cx="573.2" cy="1216.2" r="7.2" fill="#9e9e9e" fill-opacity="0.5"/>
<circle cx="561" cy="1244.2" r="7.2" fill="#9e9e9e" fill-opacity="0.5"/>
<circle cx="574" cy="1254" r="7.2" fill="#9e9e9e" fill-opacity="0.5"/>
<circle cx="559.3" cy="1267.3" r="7.2" fill="#9e9e9e" fill-opacity="0.5"/>
<circle cx="571.5" cy="1273.4" r="7.2" fill="#9e9e9e" fill-opacity="0.5"/>
<circle cx="568" cy="1186" r="7.2" fill="#9e9e9e" fill-opacity="0.5"/>
<circle cx="572" cy="1155" r="7.2" fill="#9e9e9e" fill-opacity="0.5"/>
<circle cx="560" cy="1150" r="7.2" fill="#9e9e9e" fill-opacity="0.5"/>
<line x1="568.1" y1="1182.2" x2="568.1" y2="1155.4" stroke="#000" stroke-width="2.6" stroke-linecap="butt" />
<line x1="553.6" y1="1182.2" x2="582.6" y2="1182.2" stroke="#000" stroke-width="4.2" stroke-linecap="butt" />
<line x1="553.6" y1="1155.4" x2="582.6" y2="1155.4" stroke="#000" stroke-width="4.2" stroke-linecap="butt" />
<line x1="550.6" y1="1168.8" x2="585.6" y2="1168.8" stroke="#000" stroke-width="4.2" stroke-linecap="round" />
<circle cx="654.2" cy="1156.1" r="7.2" fill="#7d5a38" fill-opacity="0.5"/>
<circle cx="661.3" cy="1166.3" r="7.2" fill="#7d5a38" fill-opacity="0.5"/>
<circle cx="647" cy="1193.1" r="7.2" fill="#7d5a38" fill-opacity="0.5"/>
<circle cx="660.8" cy="1193.1" r="7.2" fill="#7d5a38" fill-opacity="0.5"/>
<circle cx="653.5" cy="1204" r="7.2" fill="#7d5a38" fill-opacity="0.5"/>
<circle cx="647.4" cy="1223.5" r="7.2" fill="#7d5a38" fill-opacity="0.5"/>
<circle cx="659.6" cy="1221.1" r="7.2" fill="#7d5a38" fill-opacity="0.5"/>
<circle cx="647" cy="1235.7" r="7.2" fill="#7d5a38" fill-opacity="0.5"/>
<circle cx="663.3" cy="1234.5" r="7.2" fill="#7d5a38" fill-opacity="0.5"/>
<circle cx="656" cy="1243" r="7.2" fill="#7d5a38" fill-opacity="0.5"/>
<line x1="655.7" y1="1217" x2="655.7" y2="1198.5" stroke="#000" stroke-width="2.6" stroke-linecap="butt" />
<line x1="641.2" y1="1217" x2="670.2" y2="1217" stroke="#000" stroke-width="4.2" stroke-linecap="butt" />
<line x1="641.2" y1="1198.5" x2="670.2" y2="1198.5" stroke="#000" stroke-width="4.2" stroke-linecap="butt" />
<line x1="638.2" y1="1207.7" x2="673.2" y2="1207.7" stroke="#000" stroke-width="4.2" stroke-linecap="round" />
<line x1="994.4" y1="933.3" x2="994.4" y2="1295" stroke="#1a1a1a" stroke-width="2.2" stroke-linecap="butt" />
<line x1="993.3" y1="1294" x2="1159.4" y2="1294" stroke="#1a1a1a" stroke-width="2.2" stroke-linecap="butt" />
<line x1="984.4" y1="938" x2="994.4" y2="938" stroke="#1a1a1a" stroke-width="2" stroke-linecap="butt" />
<text x="973.9" y="951.7" font-size="36" text-anchor="end" font-weight="normal" fill="#1a1a1a" >75</text>
<line x1="984.4" y1="1022.4" x2="994.4" y2="1022.4" stroke="#1a1a1a" stroke-width="2" stroke-linecap="butt" />
<text x="973.9" y="1036.1" font-size="36" text-anchor="end" font-weight="normal" fill="#1a1a1a" >50</text>
<line x1="984.4" y1="1107" x2="994.4" y2="1107" stroke="#1a1a1a" stroke-width="2" stroke-linecap="butt" />
<text x="973.9" y="1120.7" font-size="36" text-anchor="end" font-weight="normal" fill="#1a1a1a" >25</text>
<line x1="984.4" y1="1191.5" x2="994.4" y2="1191.5" stroke="#1a1a1a" stroke-width="2" stroke-linecap="butt" />
<text x="973.9" y="1205.2" font-size="36" text-anchor="end" font-weight="normal" fill="#1a1a1a" >0</text>
<line x1="984.4" y1="1276.1" x2="994.4" y2="1276.1" stroke="#1a1a1a" stroke-width="2" stroke-linecap="butt" />
<text x="973.9" y="1289.8" font-size="36" text-anchor="end" font-weight="normal" fill="#1a1a1a" >−25</text>
<line x1="1033.8" y1="1294" x2="1033.8" y2="1305" stroke="#1a1a1a" stroke-width="2" stroke-linecap="butt" />
<line x1="1121.3" y1="1294" x2="1121.3" y2="1305" stroke="#1a1a1a" stroke-width="2" stroke-linecap="butt" />
<text transform="translate(883.6,1105.5) rotate(-90)" font-size="33" text-anchor="middle" font-weight="normal" fill="#111" >Δ Synapse No (%)</text>
<line x1="1031" y1="925.3" x2="1060.4" y2="925.3" stroke="#111" stroke-width="2" stroke-linecap="butt" />
<line x1="1107" y1="925.3" x2="1131" y2="925.3" stroke="#111" stroke-width="2" stroke-linecap="butt" />
<text x="1083.7" y="932.9" font-size="28" text-anchor="middle" font-weight="normal" fill="#111" >ns</text>
<line x1="996" y1="1191.6" x2="1155" y2="1191.6" stroke="#bdbdbd" stroke-width="4" stroke-linecap="butt" stroke-dasharray="15,8"/>
<circle cx="1033" cy="1103.6" r="7.2" fill="#b490cc" fill-opacity="0.5"/>
<circle cx="1025" cy="1116.9" r="7.2" fill="#b490cc" fill-opacity="0.5"/>
<circle cx="1038.3" cy="1134.2" r="7.2" fill="#b490cc" fill-opacity="0.5"/>
<circle cx="1035.6" cy="1140.9" r="7.2" fill="#b490cc" fill-opacity="0.5"/>
<circle cx="1026.3" cy="1146.2" r="7.2" fill="#b490cc" fill-opacity="0.5"/>
<circle cx="1038.3" cy="1156.9" r="7.2" fill="#b490cc" fill-opacity="0.5"/>
<circle cx="1026.3" cy="1168.8" r="7.2" fill="#b490cc" fill-opacity="0.5"/>
<circle cx="1037" cy="1173" r="7.2" fill="#b490cc" fill-opacity="0.5"/>
<circle cx="1027.6" cy="1187.5" r="7.2" fill="#b490cc" fill-opacity="0.5"/>
<circle cx="1035.6" cy="1203.4" r="7.2" fill="#b490cc" fill-opacity="0.5"/>
<circle cx="1034.3" cy="1208.8" r="7.2" fill="#b490cc" fill-opacity="0.5"/>
<circle cx="1027.6" cy="1216.7" r="7.2" fill="#b490cc" fill-opacity="0.5"/>
<circle cx="1037" cy="1224.7" r="7.2" fill="#b490cc" fill-opacity="0.5"/>
<circle cx="1031.6" cy="1232.7" r="7.2" fill="#b490cc" fill-opacity="0.5"/>
<circle cx="1032.2" cy="1251.3" r="7.2" fill="#b490cc" fill-opacity="0.5"/>
<circle cx="1031" cy="1180" r="7.2" fill="#b490cc" fill-opacity="0.5"/>
<line x1="1034.1" y1="1190.9" x2="1034.1" y2="1170.2" stroke="#000" stroke-width="2.6" stroke-linecap="butt" />
<line x1="1020.1" y1="1190.9" x2="1048.1" y2="1190.9" stroke="#000" stroke-width="4.2" stroke-linecap="butt" />
<line x1="1020.1" y1="1170.2" x2="1048.1" y2="1170.2" stroke="#000" stroke-width="4.2" stroke-linecap="butt" />
<line x1="1017.1" y1="1180" x2="1051.1" y2="1180" stroke="#000" stroke-width="4.2" stroke-linecap="round" />
<circle cx="1114.7" cy="1148.1" r="7.2" fill="#9450a8" fill-opacity="0.5"/>
<circle cx="1126.9" cy="1156.9" r="7.2" fill="#9450a8" fill-opacity="0.5"/>
<circle cx="1129.6" cy="1163.5" r="7.2" fill="#9450a8" fill-opacity="0.5"/>
<circle cx="1114.7" cy="1171.5" r="7.2" fill="#9450a8" fill-opacity="0.5"/>
<circle cx="1117" cy="1182" r="7.2" fill="#9450a8" fill-opacity="0.5"/>
<circle cx="1120.8" cy="1199.4" r="7.2" fill="#9450a8" fill-opacity="0.5"/>
<circle cx="1126.9" cy="1212.7" r="7.2" fill="#9450a8" fill-opacity="0.5"/>
<circle cx="1119" cy="1230.6" r="7.2" fill="#9450a8" fill-opacity="0.5"/>
<circle cx="1122" cy="1190" r="7.2" fill="#9450a8" fill-opacity="0.5"/>
<line x1="1121.5" y1="1194.1" x2="1121.5" y2="1176.8" stroke="#000" stroke-width="2.6" stroke-linecap="butt" />
<line x1="1107.5" y1="1194.1" x2="1135.5" y2="1194.1" stroke="#000" stroke-width="4.2" stroke-linecap="butt" />
<line x1="1107.5" y1="1176.8" x2="1135.5" y2="1176.8" stroke="#000" stroke-width="4.2" stroke-linecap="butt" />
<line x1="1104.5" y1="1185.3" x2="1138.5" y2="1185.3" stroke="#000" stroke-width="4.2" stroke-linecap="round" />
<text x="337.8" y="1360.1" font-size="24.5" text-anchor="end" font-weight="normal" fill="#111" >DMSO</text>
<text x="337.8" y="1407.3" font-size="24.5" text-anchor="end" font-weight="normal" fill="#111" >Clonidine</text>
<text x="337.8" y="1455" font-size="24.5" text-anchor="end" font-weight="normal" fill="#111" >Chloro-adenosine</text>
<text x="337.8" y="1500.5" font-size="24.5" text-anchor="end" font-weight="normal" fill="#111" >n =</text>
<text x="337.8" y="1546" font-size="24.5" text-anchor="end" font-weight="normal" fill="#111" >fish =</text>
<circle cx="394.4" cy="1353" r="10.3" fill="#000" fill-opacity="1.0"/>
<circle cx="480.2" cy="1353" r="10.3" fill="#000" fill-opacity="1.0"/>
<circle cx="568.7" cy="1353" r="10.3" fill="#000" fill-opacity="1.0"/>
<circle cx="656.7" cy="1353" r="10.3" fill="#000" fill-opacity="1.0"/>
<circle cx="480.2" cy="1400.2" r="10.3" fill="#000" fill-opacity="1.0"/>
<circle cx="656.7" cy="1400.2" r="10.3" fill="#000" fill-opacity="1.0"/>
<circle cx="568.7" cy="1447.9" r="10.3" fill="#000" fill-opacity="1.0"/>
<circle cx="656.7" cy="1447.9" r="10.3" fill="#000" fill-opacity="1.0"/>
<text x="394.4" y="1500.5" font-size="24.5" text-anchor="middle" font-weight="normal" fill="#111" >15</text>
<text x="394.4" y="1546" font-size="24.5" text-anchor="middle" font-weight="normal" fill="#111" >14</text>
<text x="480.2" y="1500.5" font-size="24.5" text-anchor="middle" font-weight="normal" fill="#111" >12</text>
<text x="480.2" y="1546" font-size="24.5" text-anchor="middle" font-weight="normal" fill="#111" >9</text>
<text x="568.7" y="1500.5" font-size="24.5" text-anchor="middle" font-weight="normal" fill="#111" >24</text>
<text x="568.7" y="1546" font-size="24.5" text-anchor="middle" font-weight="normal" fill="#111" >19</text>
<text x="656.7" y="1500.5" font-size="24.5" text-anchor="middle" font-weight="normal" fill="#111" >10</text>
<text x="656.7" y="1546" font-size="24.5" text-anchor="middle" font-weight="normal" fill="#111" >10</text>
<text x="978.7" y="1359.8" font-size="24.5" text-anchor="end" font-weight="normal" fill="#111" >DMSO</text>
<text x="978.7" y="1408.1" font-size="24.5" text-anchor="end" font-weight="normal" fill="#111" >Melatonin</text>
<text x="978.7" y="1454.6" font-size="24.5" text-anchor="end" font-weight="normal" fill="#111" >Chloro-adenosine</text>
<text x="978.7" y="1501.4" font-size="24.5" text-anchor="end" font-weight="normal" fill="#111" >n =</text>
<text x="978.7" y="1547.1" font-size="24.5" text-anchor="end" font-weight="normal" fill="#111" >fish =</text>
<circle cx="1034.2" cy="1352.7" r="10.2" fill="#000" fill-opacity="1.0"/>
<circle cx="1120.6" cy="1352.7" r="10.2" fill="#000" fill-opacity="1.0"/>
<circle cx="1034.2" cy="1401" r="10.2" fill="#000" fill-opacity="1.0"/>
<circle cx="1120.6" cy="1401" r="10.2" fill="#000" fill-opacity="1.0"/>
<circle cx="1120.6" cy="1447.5" r="10.2" fill="#000" fill-opacity="1.0"/>
<text x="1034.2" y="1501.4" font-size="24.5" text-anchor="middle" font-weight="normal" fill="#111" >16</text>
<text x="1034.2" y="1547.1" font-size="24.5" text-anchor="middle" font-weight="normal" fill="#111" >14</text>
<text x="1120.6" y="1501.4" font-size="24.5" text-anchor="middle" font-weight="normal" fill="#111" >9</text>
<text x="1120.6" y="1547.1" font-size="24.5" text-anchor="middle" font-weight="normal" fill="#111" >8</text>
<line x1="122" y1="1605.9" x2="1310" y2="1605.9" stroke="#000" stroke-width="2.9" stroke-linecap="butt" />
<text transform="translate(0.7,1693.2) scale(1.0,1)" font-size="63.7" font-weight="bold" fill="#000">d</text>
<rect x="305.7" y="1674" width="226.3" height="345" fill="#d6d6d6" fill-opacity="1.0" stroke="#bdbdbd" stroke-width="1.5" />
<rect x="848.6" y="1674.5" width="226.1" height="344.5" fill="#d6d6d6" fill-opacity="1.0" stroke="#bdbdbd" stroke-width="1.5" />
<rect x="656" y="1674.8" width="102.2" height="344.2" fill="#dfd3e8" fill-opacity="1.0" stroke="#c6b2d6" stroke-width="1.5" />
<polygon points="170.6,1896.8 174.4,1905.2 179.5,1915.6 181.9,1914.5 185.7,1916.1 189.4,1925.4 193.9,1922.3 197,1928.1 200.8,1921.3 204.5,1921.2 208.3,1911.9 211.2,1915.2 215.8,1917.8 219.6,1923.5 222.8,1928.6 227.2,1924.6 231.5,1922.3 234.7,1925.2 240.1,1936.2 242.2,1941.5 246,1937.8 249.8,1942.2 251.7,1937.6 253.5,1931.5 257.3,1943.2 261.1,1931.9 263.3,1936.2 268.6,1949.4 272.4,1945.6 274.8,1951.4 279.9,1950.6 283.7,1947.3 286.4,1944.3 291.2,1942.4 295,1956.5 297.9,1951.4 303.8,1955.5 307.5,1812.2 311.5,1946.5 315,1982.8 317.6,1987 321.4,1983.8 325.2,1988.5 330,1991.3 332.7,1994.1 336.5,1988.8 340.2,1989.4 344,1995 347.8,1993.4 351.6,1995.5 355.3,1994.7 360,1994 362.9,1993.3 366.6,1996.4 370.4,1993.2 374.2,1997.4 377.9,1996.8 381.7,1993 385.5,1995.7 389.3,1995.8 393,1994.8 396.8,1995.8 400,1995.8 404.3,1996.4 408.1,1998.5 411.9,1994.1 415.6,1992.5 419.4,1992.4 423.2,1994.3 427,1996.2 430.7,1996.1 434.5,1993.9 438.3,1994 442,1997.4 445.8,1996.6 450,1994.9 453.4,1995.8 457.1,1994.9 460.9,1993.1 464.7,1995.1 468.4,1998.1 472.2,1993.2 476,1995.8 479.7,1995.3 483.5,1997.2 487.3,1996 491.1,1996.3 494.8,1994 500,1995.8 502.4,1998.3 506.1,1995.5 509.9,1997.9 513.7,1994.8 517.4,1999 521.2,1997.5 526,1996.2 530,1954.1 532.5,1957 535.2,1955.5 540.1,1920.2 544.2,1893.7 547.6,1896.6 551.4,1886.9 553.3,1884.3 555.1,1890.9 558.9,1894.9 561,1894.6 566.5,1903.4 568.8,1906.7 574,1891.4 576.5,1893.7 581.5,1887.9 584.3,1884.3 589.1,1879.4 592.1,1887 596.6,1886.5 599.8,1878 604.1,1871.2 607.6,1876.7 611.7,1867.8 614,1859.7 619.2,1878.8 621.8,1881.6 628.3,1887 630.5,1879.7 636,1874 636,1902.7 630.5,1908.3 628.3,1915.6 621.8,1910.3 619.2,1907.5 614,1888.3 611.7,1896.4 607.6,1905.3 604.1,1899.9 599.8,1906.7 596.6,1915.2 592.1,1915.6 589.1,1908.1 584.3,1912.9 581.5,1916.6 576.5,1922.3 574,1920 568.8,1935.3 566.5,1932 561,1923.2 558.9,1923.6 555.1,1919.6 553.3,1912.9 551.4,1915.5 547.6,1925.3 544.2,1922.3 540.1,1948.8 535.2,1984.1 532.5,1985.7 530,1982.8 526,2001.6 521.2,2002.9 517.4,2004.3 513.7,2000.1 509.9,2003.3 506.1,2000.9 502.4,2003.7 500,2001.1 494.8,1999.3 491.1,2001.7 487.3,2001.4 483.5,2002.6 479.7,2000.6 476,2001.1 472.2,1998.6 468.4,2003.5 464.7,2000.5 460.9,1998.5 457.1,2000.3 453.4,2001.1 450,2000.2 445.8,2002 442,2002.8 438.3,1999.3 434.5,1999.3 430.7,2001.4 427,2001.5 423.2,1999.7 419.4,1997.8 415.6,1997.9 411.9,1999.5 408.1,2003.9 404.3,2001.8 400,2001.1 396.8,2001.1 393,2000.2 389.3,2001.2 385.5,2001.1 381.7,1998.3 377.9,2002.2 374.2,2002.8 370.4,1998.6 366.6,2001.7 362.9,1998.7 360,1999.3 355.3,2000.1 351.6,2000.9 347.8,1998.7 344,2000.3 340.2,1994.8 336.5,1994.2 332.7,1999.5 330,1996.6 325.2,1993.9 321.4,1989.2 317.6,1992.4 315,1988.1 311.5,1975.2 307.5,1840.9 303.8,1984.1 297.9,1980.1 295,1985.2 291.2,1971 286.4,1972.9 283.7,1976 279.9,1979.3 274.8,1980.1 272.4,1974.2 268.6,1978 263.3,1964.9 261.1,1960.6 257.3,1971.9 253.5,1960.2 251.7,1966.2 249.8,1970.8 246,1966.4 242.2,1970.2 240.1,1964.9 234.7,1953.8 231.5,1951 227.2,1953.3 222.8,1957.3 219.6,1952.1 215.8,1946.5 211.2,1943.8 208.3,1940.6 204.5,1949.8 200.8,1949.9 197,1956.7 193.9,1951 189.4,1954 185.7,1944.8 181.9,1943.1 179.5,1944.3 174.4,1933.8 170.6,1925.5" fill="#d9a27a" fill-opacity="0.35" stroke="none" stroke-width="0"/>
<polygon points="170.6,1906.2 175,1908.5 178.1,1913.1 181,1916.1 185.7,1911.5 191,1908 193.2,1907.2 197,1922.3 200.8,1921.8 204.5,1920.1 208.3,1917.8 211,1918.3 215.8,1928.3 219.6,1927.9 223.4,1930.5 226,1935.3 230.9,1937.5 234,1945.6 240,1935.3 242.2,1938.1 246,1930.1 250,1921.9 253.5,1937 257,1940.3 261.1,1934.8 264.9,1935.6 268,1937.6 272.4,1944.9 276,1938.9 279.9,1938.3 283,1950.1 287.5,1947 292,1957.3 295,1957 299,1961.7 303.8,1957.7 307.5,1794.3 311.5,1937.6 315.3,1989.5 317.6,1989.7 321.4,1994 326.8,1994 328.9,1996.2 332.7,1991.5 336.5,1993 338.4,1989.5 340.2,1991.7 344,1992 347.8,1994 351.6,1991.9 355.3,1992.7 360,1993.1 362.9,1991 366.6,1993.2 370.4,1992.7 374.2,1993.7 377.9,1992.9 381.7,1994.3 385.5,1995.6 389.3,1991.3 393,1991.4 396.8,1992.6 400,1994.9 404.3,1993.6 408.1,1996.2 411.9,1996.8 415.6,1996.5 419.4,1997.9 423.2,1993.6 427,1996 430.7,1993.2 434.5,1996.2 438.3,1992.7 442,1993.4 445.8,1998.8 450,1995.8 453.4,1997.5 457.1,1993.1 460.9,1995.7 464.7,1992.5 468.4,1996.1 472.2,1998 476,1994.5 479.7,1993.5 483.5,1996.6 487.3,1997.7 491.1,1996.1 494.8,1992 500,1994.9 502.4,1993.3 506.1,1997.4 509.9,1996.6 513.7,1997.6 517.4,1997.9 521.2,1993.4 526.3,1995.3 528.8,1988.8 532,1957.7 533.9,1959 536.3,1944.2 540.1,1923.7 545.5,1891 547.6,1898.9 551.4,1897.5 553.3,1904 555.1,1903.5 558.9,1884.4 563.6,1871.8 566.5,1885.3 570.2,1891.5 572.7,1897.3 579.1,1876.7 581.5,1888.5 585.6,1897.3 589.1,1893.7 592.8,1876.1 594.6,1879.4 596.6,1880.3 600.4,1897.4 602.4,1900 604.1,1890.8 607.9,1892.6 612.7,1878.5 615.5,1877.7 619.2,1873.1 623,1875.3 626.8,1885.6 629.5,1892.8 636,1895.5 636,1924.1 629.5,1921.5 626.8,1914.2 623,1903.9 619.2,1901.8 615.5,1906.4 612.7,1907.1 607.9,1921.2 604.1,1919.4 602.4,1928.6 600.4,1926.1 596.6,1909 594.6,1908 592.8,1904.8 589.1,1922.3 585.6,1925.9 581.5,1917.1 579.1,1905.3 572.7,1925.9 570.2,1920.1 566.5,1913.9 563.6,1900.4 558.9,1913 555.1,1932.2 553.3,1932.6 551.4,1926.1 547.6,1927.6 545.5,1919.7 540.1,1952.3 536.3,1972.8 533.9,1987.7 532,1986.4 528.8,1994.1 526.3,2000.7 521.2,1998.7 517.4,2003.3 513.7,2003 509.9,2002 506.1,2002.7 502.4,1998.7 500,2000.2 494.8,1997.4 491.1,2001.4 487.3,2003 483.5,2002 479.7,1998.8 476,1999.8 472.2,2003.4 468.4,2001.4 464.7,1997.9 460.9,2001.1 457.1,1998.4 453.4,2002.9 450,2001.1 445.8,2004.2 442,1998.8 438.3,1998 434.5,2001.6 430.7,1998.6 427,2001.3 423.2,1999 419.4,2003.3 415.6,2001.8 411.9,2002.1 408.1,2001.5 404.3,1999 400,2000.2 396.8,1998 393,1996.8 389.3,1996.6 385.5,2001 381.7,1999.7 377.9,1998.2 374.2,1999.1 370.4,1998 366.6,1998.6 362.9,1996.4 360,1998.4 355.3,1998 351.6,1997.3 347.8,1999.4 344,1997.4 340.2,1997.1 338.4,1994.9 336.5,1998.4 332.7,1996.9 328.9,2001.5 326.8,1999.3 321.4,1999.4 317.6,1995 315.3,1994.9 311.5,1966.2 307.5,1823 303.8,1986.4 299,1990.4 295,1985.6 292,1985.9 287.5,1975.6 283,1978.7 279.9,1966.9 276,1967.6 272.4,1973.5 268,1966.2 264.9,1964.2 261.1,1963.5 257,1968.9 253.5,1965.7 250,1950.5 246,1958.7 242.2,1966.8 240,1964 234,1974.3 230.9,1966.1 226,1964 223.4,1959.1 219.6,1956.6 215.8,1957 211,1947 208.3,1946.5 204.5,1948.7 200.8,1950.4 197,1951 193.2,1935.9 191,1936.7 185.7,1940.1 181,1944.7 178.1,1941.8 175,1937.1 170.6,1934.9" fill="#9bd89a" fill-opacity="0.3" stroke="none" stroke-width="0"/>
<polygon points="654.9,1927.3 658.7,1947 662.4,1966.7 666.2,1942.9 670,1977.8 673.8,1979.6 677.5,1947.4 681.3,1973.4 685.1,1975.2 688.8,1947.9 692.6,1976.5 696.4,1984.1 700.1,1952.8 703.9,1978.7 707.7,1981.4 711.4,1956.4 715.2,1978.7 719,1981 722.8,1953.7 726.5,1984.1 730.3,1983.2 734.1,1951.9 737.8,1979.6 741.6,1979.2 745.4,1954.6 749.1,1977.4 752.9,1978.7 752.9,1989.5 749.1,1988.1 745.4,1965.3 741.6,1989.9 737.8,1990.4 734.1,1962.6 730.3,1994 726.5,1994.9 722.8,1964.4 719,1991.7 715.2,1989.5 711.4,1967.1 707.7,1992.2 703.9,1989.5 700.1,1963.5 696.4,1994.9 692.6,1987.2 688.8,1958.6 685.1,1985.9 681.3,1984.1 677.5,1958.2 673.8,1990.4 670,1988.6 666.2,1953.7 662.4,1977.4 658.7,1957.7 654.9,1938" fill="#d9a27a" fill-opacity="0.35" stroke="none" stroke-width="0"/>
<polygon points="654.9,1736.1 658.7,1784 662.4,1826.6 666.2,1780.9 670,1833.3 673.8,1865.9 677.5,1814.9 681.3,1855.7 685.1,1886.1 688.8,1832.8 692.6,1869.1 696.4,1892.8 700.1,1843.6 703.9,1882.5 707.7,1906.2 711.4,1859.7 715.2,1891.5 719,1909.8 722.8,1856.5 726.5,1895.9 730.3,1919.2 734.1,1855.2 737.8,1895.9 741.6,1911.6 745.4,1873.6 749.1,1904.9 752.9,1930.9 752.9,1962.2 749.1,1936.2 745.4,1904.9 741.6,1942.9 737.8,1927.3 734.1,1886.5 730.3,1950.5 726.5,1927.3 722.8,1887.9 719,1941.1 715.2,1922.8 711.4,1891 707.7,1937.6 703.9,1913.8 700.1,1874.9 696.4,1924.1 692.6,1900.4 688.8,1864.2 685.1,1917.4 681.3,1887 677.5,1846.3 673.8,1897.3 670,1864.6 666.2,1812.2 662.4,1857.9 658.7,1815.4 654.9,1767.5" fill="#a8a8a8" fill-opacity="0.28" stroke="none" stroke-width="0"/>
<polygon points="797,1832.8 800.8,1822.7 802.8,1824.8 804.5,1841.5 808,1863.3 811.9,1865.9 814.4,1892.8 819.6,1889.2 823.5,1899.5 828.6,1908.9 830.9,1917.6 834.7,1912.9 837.7,1922.8 842.9,1935.3 847.6,1928.6 851.4,1816.7 854.7,1966.7 857.3,1984.3 861.1,1984.1 862.9,1981.4 864.9,1980.9 868.6,1983.7 872.7,1983.7 876.2,1981.9 879.9,1986.9 883.7,1983.1 887.5,1987.9 891.2,1986.9 895,1985.6 898.8,1987.9 902.6,1987.2 905,1990.4 910.1,1987.9 913.9,1991.1 917.6,1985 921.8,1986.4 925.2,1986.2 929,1988.4 932.7,1989.6 936.5,1986 940.3,1988.1 944,1986.3 947.8,1987.8 951.6,1987.1 954.5,1990.4 959.1,1988.8 962.9,1987.1 966.6,1986.7 970.8,1986.4 974.2,1988.7 978,1985.3 981.7,1990.2 987,1990.4 989.3,1988.4 993,1986.9 996.8,1988.4 1000.6,1991.2 1003.5,1988.6 1008.1,1986.6 1011.9,1987.5 1015.7,1990.6 1019.4,1991.4 1023.2,1988.4 1027,1991.5 1030.7,1985.9 1036.2,1988.6 1038.3,1988.7 1042,1988.8 1045.8,1989.7 1049.6,1988.3 1053.4,1986.9 1057.1,1990.9 1060.9,1990.7 1064.7,1989.6 1068.9,1990.4 1072.2,1991.7 1076,1945.8 1080.3,1907.1 1083.5,1882.7 1088.5,1847.6 1091.1,1849.8 1095,1854.3 1098.6,1857.7 1101.6,1859.2 1106.1,1836.7 1108.1,1829.7 1109.9,1839.3 1114.7,1865.9 1117.5,1864 1121.2,1845.4 1124.5,1843.1 1128.8,1858.2 1131,1863.7 1136.3,1856.1 1139.2,1850.7 1143.8,1839.6 1145.7,1833.7 1147.6,1841.4 1152.3,1876.2 1155.2,1861.8 1158.8,1854.3 1162.7,1857.4 1167,1861 1170.2,1866.9 1174,1875.9 1177.8,1873 1180.1,1880.7 1185.3,1873.2 1189.1,1861.2 1192.8,1855.4 1196.4,1846.3 1200.4,1864.9 1203,1874 1209.5,1847.6 1211.7,1851.7 1215.5,1858 1219.3,1859.2 1223,1874.6 1226.8,1879.8 1230.5,1887.6 1232.4,1895.9 1234.3,1891.1 1238.1,1889.4 1241.9,1877.7 1243.9,1876.2 1245.6,1885.3 1249.4,1890.6 1253.2,1895.3 1255.3,1904 1255.3,1941.6 1253.2,1932.9 1249.4,1928.2 1245.6,1922.9 1243.9,1913.8 1241.9,1915.3 1238.1,1927 1234.3,1928.7 1232.4,1933.5 1230.5,1925.2 1226.8,1917.4 1223,1912.2 1219.3,1896.8 1215.5,1895.6 1211.7,1889.3 1209.5,1885.2 1203,1911.6 1200.4,1902.5 1196.4,1883.9 1192.8,1893 1189.1,1898.8 1185.3,1910.8 1180.1,1918.3 1177.8,1910.6 1174,1913.5 1170.2,1904.5 1167,1898.6 1162.7,1895 1158.8,1891.9 1155.2,1899.4 1152.3,1913.8 1147.6,1879 1145.7,1871.3 1143.8,1877.2 1139.2,1888.3 1136.3,1893.7 1131,1901.3 1128.8,1895.8 1124.5,1880.7 1121.2,1883 1117.5,1901.6 1114.7,1903.5 1109.9,1876.9 1108.1,1867.3 1106.1,1874.3 1101.6,1896.8 1098.6,1895.3 1095,1891.9 1091.1,1887.4 1088.5,1885.2 1083.5,1920.3 1080.3,1944.7 1076,1983.4 1072.2,1997.1 1068.9,1995.8 1064.7,1995 1060.9,1996.1 1057.1,1996.3 1053.4,1992.3 1049.6,1993.7 1045.8,1995.1 1042,1994.2 1038.3,1994 1036.2,1994 1030.7,1991.3 1027,1996.9 1023.2,1993.8 1019.4,1996.8 1015.7,1995.9 1011.9,1992.9 1008.1,1991.9 1003.5,1994 1000.6,1996.5 996.8,1993.7 993,1992.2 989.3,1993.7 987,1995.8 981.7,1995.6 978,1990.6 974.2,1994.1 970.8,1991.7 966.6,1992 962.9,1992.4 959.1,1994.2 954.5,1995.8 951.6,1992.5 947.8,1993.2 944,1991.7 940.3,1993.5 936.5,1991.3 932.7,1995 929,1993.8 925.2,1991.6 921.8,1991.7 917.6,1990.3 913.9,1996.5 910.1,1993.2 905,1995.8 902.6,1992.6 898.8,1993.3 895,1991 891.2,1992.3 887.5,1993.2 883.7,1988.4 879.9,1992.2 876.2,1987.3 872.7,1989 868.6,1989.1 864.9,1986.3 862.9,1986.8 861.1,1989.5 857.3,1989.7 854.7,2004.3 851.4,1854.3 847.6,1966.2 842.9,1972.9 837.7,1960.4 834.7,1950.5 830.9,1955.2 828.6,1946.5 823.5,1937.1 819.6,1926.8 814.4,1930.4 811.9,1903.5 808,1900.9 804.5,1879.1 802.8,1862.4 800.8,1860.3 797,1870.4" fill="#d9a27a" fill-opacity="0.35" stroke="none" stroke-width="0"/>
<polygon points="801.5,1692.7 805.3,1771.4 808,1822.1 814.4,1848 816.6,1856.4 820.9,1878.9 824,1870.4 828.6,1884.3 831.2,1899.5 835.4,1905.1 837.7,1910.3 844.1,1919.2 847.6,1917 851.4,1789 854.3,1884.1 856.4,1969.8 862.9,1986.8 865.6,1987.7 869.4,1982.9 872.7,1983.7 876.9,1983.5 880.7,1986.9 884.4,1988.5 889,1990.4 892,1992.4 895.8,1994.2 899.5,1992.3 903.3,1991.4 905.4,1992.2 910.8,1995.9 914.6,1992.1 918.4,1996.3 921.8,1995.3 925.9,1996.5 929.7,1997.3 933.5,1990.9 938.1,1993.5 941,1992.2 944.8,1991.5 948.5,1993.4 952.3,1997.2 956.1,1995.6 959.8,1994.7 963.6,1997.3 967.4,1992.3 970.8,1995.3 974.9,1995.9 978.7,1997 982.5,1992.7 986.2,1996.8 990,1991.6 993.8,1994.3 997.5,1993.5 1001.3,1994.6 1003.5,1993.5 1008.9,1993.9 1012.6,1996 1016.4,1997.1 1020.2,1992.1 1023.9,1996.3 1027.7,1993.1 1031.5,1996.9 1036.2,1995.3 1039,1992.4 1042.8,1992.8 1046.5,1993.7 1050.3,1993.7 1054.1,1994.8 1057.9,1993.9 1061.6,1997.7 1065.4,1995.5 1068.9,1995.3 1072.2,1995.3 1076.7,1941 1080.3,1917 1085.3,1871.3 1088,1869.7 1091.8,1859.7 1096.7,1876.2 1099.3,1862.8 1101.6,1859.7 1106.5,1876.2 1111.4,1840 1114.4,1847.7 1118,1865.9 1122,1877 1124.5,1882.5 1129.4,1879.4 1133.3,1895.2 1136,1904 1140.8,1884 1142.5,1876.2 1144.6,1874.9 1148.3,1863.6 1150.7,1865.9 1155.6,1874.5 1159.7,1868.3 1163.7,1859.7 1167.2,1869.3 1170.3,1868.2 1174.7,1872.6 1176.8,1868.2 1180.1,1885.6 1182.3,1881.2 1186.6,1879.4 1189.8,1875 1193.2,1881.2 1197.3,1884.1 1199.7,1885.6 1206.3,1882.5 1208.7,1883.7 1212.8,1885.6 1216.2,1883.5 1219.3,1882.5 1224.2,1899.1 1227.5,1897.1 1232.4,1900.9 1235,1906.5 1238.8,1906.1 1242.2,1910.7 1246.4,1903.8 1248.7,1900.9 1255.3,1900.9 1255.3,1938.5 1248.7,1938.5 1246.4,1941.4 1242.2,1948.3 1238.8,1943.7 1235,1944.1 1232.4,1938.5 1227.5,1934.7 1224.2,1936.7 1219.3,1920.1 1216.2,1921.1 1212.8,1923.2 1208.7,1921.3 1206.3,1920.1 1199.7,1923.2 1197.3,1921.7 1193.2,1918.8 1189.8,1912.6 1186.6,1917 1182.3,1918.8 1180.1,1923.2 1176.8,1905.8 1174.7,1910.2 1170.3,1905.8 1167.2,1906.9 1163.7,1897.3 1159.7,1905.9 1155.6,1912.1 1150.7,1903.5 1148.3,1901.2 1144.6,1912.5 1142.5,1913.8 1140.8,1921.6 1136,1941.6 1133.3,1932.8 1129.4,1917 1124.5,1920.1 1122,1914.6 1118,1903.5 1114.4,1885.3 1111.4,1877.6 1106.5,1913.8 1101.6,1897.3 1099.3,1900.4 1096.7,1913.8 1091.8,1897.3 1088,1907.3 1085.3,1908.9 1080.3,1954.6 1076.7,1978.6 1072.2,2000.7 1068.9,2000.7 1065.4,2000.8 1061.6,2003 1057.9,1999.2 1054.1,2000.2 1050.3,1999 1046.5,1999.1 1042.8,1998.2 1039,1997.7 1036.2,2000.7 1031.5,2002.2 1027.7,1998.5 1023.9,2001.7 1020.2,1997.5 1016.4,2002.5 1012.6,2001.3 1008.9,1999.3 1003.5,1998.9 1001.3,2000 997.5,1998.9 993.8,1999.7 990,1996.9 986.2,2002.2 982.5,1998 978.7,2002.4 974.9,2001.3 970.8,2000.7 967.4,1997.7 963.6,2002.7 959.8,2000.1 956.1,2000.9 952.3,2002.6 948.5,1998.7 944.8,1996.9 941,1997.5 938.1,1998.9 933.5,1996.3 929.7,2002.7 925.9,2001.9 921.8,2000.7 918.4,2001.7 914.6,1997.5 910.8,2001.3 905.4,1997.5 903.3,1996.8 899.5,1997.7 895.8,1999.6 892,1997.7 889,1995.8 884.4,1993.8 880.7,1992.2 876.9,1988.8 872.7,1989 869.4,1988.3 865.6,1993.1 862.9,1992.2 856.4,1975.2 854.3,1921.7 851.4,1826.6 847.6,1954.6 844.1,1956.8 837.7,1947.9 835.4,1942.7 831.2,1937.1 828.6,1921.9 824,1908 820.9,1916.5 816.6,1894 814.4,1885.6 808,1859.7 805.3,1809 801.5,1730.3" fill="#9bd89a" fill-opacity="0.3" stroke="none" stroke-width="0"/>
<polyline points="170.6,1911.2 174.4,1919.5 179.5,1930 181.9,1928.8 185.7,1930.5 189.4,1939.7 193.9,1936.7 197,1942.4 200.8,1935.6 204.5,1935.5 208.3,1926.3 211.2,1929.5 215.8,1932.1 219.6,1937.8 222.8,1942.9 227.2,1939 231.5,1936.7 234.7,1939.5 240.1,1950.5 242.2,1955.9 246,1952.1 249.8,1956.5 251.7,1951.9 253.5,1945.9 257.3,1957.6 261.1,1946.2 263.3,1950.5 268.6,1963.7 272.4,1959.9 274.8,1965.8 279.9,1964.9 283.7,1961.6 286.4,1958.6 291.2,1956.7 295,1970.9 297.9,1965.8 303.8,1969.8 307.5,1826.6 311.5,1960.8 315,1985.5 317.6,1989.7 321.4,1986.5 325.2,1991.2 330,1994 332.7,1996.8 336.5,1991.5 340.2,1992.1 344,1997.6 347.8,1996 351.6,1998.2 355.3,1997.4 360,1996.6 362.9,1996 366.6,1999.1 370.4,1995.9 374.2,2000.1 377.9,1999.5 381.7,1995.6 385.5,1998.4 389.3,1998.5 393,1997.5 396.8,1998.4 400,1998.4 404.3,1999.1 408.1,2001.2 411.9,1996.8 415.6,1995.2 419.4,1995.1 423.2,1997 427,1998.9 430.7,1998.7 434.5,1996.6 438.3,1996.7 442,2000.1 445.8,1999.3 450,1997.5 453.4,1998.5 457.1,1997.6 460.9,1995.8 464.7,1997.8 468.4,2000.8 472.2,1995.9 476,1998.4 479.7,1998 483.5,1999.9 487.3,1998.7 491.1,1999 494.8,1996.6 500,1998.4 502.4,2001 506.1,1998.2 509.9,2000.6 513.7,1997.4 517.4,2001.6 521.2,2000.2 526,1998.9 530,1968.4 532.5,1971.3 535.2,1969.8 540.1,1934.5 544.2,1908 547.6,1910.9 551.4,1901.2 553.3,1898.6 555.1,1905.3 558.9,1909.2 561,1908.9 566.5,1917.7 568.8,1921 574,1905.7 576.5,1908 581.5,1902.2 584.3,1898.6 589.1,1893.7 592.1,1901.3 596.6,1900.8 599.8,1892.4 604.1,1885.5 607.6,1891 611.7,1882.1 614,1874 619.2,1893.2 621.8,1895.9 628.3,1901.3 630.5,1894 636,1888.3" fill="none" stroke="#a95f22" stroke-width="3.7" stroke-opacity="1.0" stroke-linejoin="round" stroke-linecap="butt" />
<polyline points="170.6,1920.6 175,1922.8 178.1,1927.5 181,1930.4 185.7,1925.8 191,1922.3 193.2,1921.6 197,1936.7 200.8,1936.1 204.5,1934.4 208.3,1932.2 211,1932.6 215.8,1942.6 219.6,1942.2 223.4,1944.8 226,1949.6 230.9,1951.8 234,1959.9 240,1949.6 242.2,1952.5 246,1944.4 250,1936.2 253.5,1951.4 257,1954.6 261.1,1949.1 264.9,1949.9 268,1951.9 272.4,1959.2 276,1953.2 279.9,1952.6 283,1964.4 287.5,1961.3 292,1971.6 295,1971.3 299,1976.1 303.8,1972 307.5,1808.7 311.5,1951.9 315.3,1992.2 317.6,1992.4 321.4,1996.7 326.8,1996.6 328.9,1998.9 332.7,1994.2 336.5,1995.7 338.4,1992.2 340.2,1994.4 344,1994.7 347.8,1996.7 351.6,1994.6 355.3,1995.4 360,1995.8 362.9,1993.7 366.6,1995.9 370.4,1995.3 374.2,1996.4 377.9,1995.5 381.7,1997 385.5,1998.3 389.3,1993.9 393,1994.1 396.8,1995.3 400,1997.5 404.3,1996.3 408.1,1998.8 411.9,1999.4 415.6,1999.1 419.4,2000.6 423.2,1996.3 427,1998.7 430.7,1995.9 434.5,1998.9 438.3,1995.4 442,1996.1 445.8,2001.5 450,1998.4 453.4,2000.2 457.1,1995.7 460.9,1998.4 464.7,1995.2 468.4,1998.8 472.2,2000.7 476,1997.2 479.7,1996.2 483.5,1999.3 487.3,2000.4 491.1,1998.8 494.8,1994.7 500,1997.5 502.4,1996 506.1,2000 509.9,1999.3 513.7,2000.3 517.4,2000.6 521.2,1996 526.3,1998 528.8,1991.4 532,1972 533.9,1973.4 536.3,1958.5 540.1,1938 545.5,1905.3 547.6,1913.3 551.4,1911.8 553.3,1918.3 555.1,1917.8 558.9,1898.7 563.6,1886.1 566.5,1899.6 570.2,1905.8 572.7,1911.6 579.1,1891 581.5,1902.8 585.6,1911.6 589.1,1908 592.8,1890.5 594.6,1893.7 596.6,1894.7 600.4,1911.8 602.4,1914.3 604.1,1905.1 607.9,1906.9 612.7,1892.8 615.5,1892 619.2,1887.4 623,1889.6 626.8,1899.9 629.5,1907.1 636,1909.8" fill="none" stroke="#79bf76" stroke-width="3.7" stroke-opacity="1.0" stroke-linejoin="round" stroke-linecap="butt" />
<polyline points="654.9,1932.6 658.7,1952.3 662.4,1972 666.2,1948.3 670,1983.2 673.8,1985 677.5,1952.8 681.3,1978.7 685.1,1980.5 688.8,1953.2 692.6,1981.9 696.4,1989.5 700.1,1958.2 703.9,1984.1 707.7,1986.8 711.4,1961.7 715.2,1984.1 719,1986.4 722.8,1959 726.5,1989.5 730.3,1988.6 734.1,1957.3 737.8,1985 741.6,1984.6 745.4,1959.9 749.1,1982.8 752.9,1984.1" fill="none" stroke="#a95f22" stroke-width="3.7" stroke-opacity="1.0" stroke-linejoin="round" stroke-linecap="butt" />
<polyline points="654.9,1751.8 658.7,1799.7 662.4,1842.2 666.2,1796.6 670,1848.9 673.8,1881.6 677.5,1830.6 681.3,1871.3 685.1,1901.8 688.8,1848.5 692.6,1884.7 696.4,1908.5 700.1,1859.2 703.9,1898.2 707.7,1921.9 711.4,1875.3 715.2,1907.1 719,1925.5 722.8,1872.2 726.5,1911.6 730.3,1934.9 734.1,1870.9 737.8,1911.6 741.6,1927.3 745.4,1889.2 749.1,1920.6 752.9,1946.5" fill="none" stroke="#79bf76" stroke-width="3.7" stroke-opacity="1.0" stroke-linejoin="round" stroke-linecap="butt" />
<polyline points="797,1851.6 800.8,1841.5 802.8,1843.6 804.5,1860.3 808,1882.1 811.9,1884.7 814.4,1911.6 819.6,1908 823.5,1918.3 828.6,1927.7 830.9,1936.4 834.7,1931.7 837.7,1941.6 842.9,1954.1 847.6,1947.4 851.4,1835.5 854.7,1985.5 857.3,1987 861.1,1986.8 862.9,1984.1 864.9,1983.6 868.6,1986.4 872.7,1986.4 876.2,1984.6 879.9,1989.5 883.7,1985.8 887.5,1990.6 891.2,1989.6 895,1988.3 898.8,1990.6 902.6,1989.9 905,1993.1 910.1,1990.5 913.9,1993.8 917.6,1987.6 921.8,1989 925.2,1988.9 929,1991.1 932.7,1992.3 936.5,1988.7 940.3,1990.8 944,1989 947.8,1990.5 951.6,1989.8 954.5,1993.1 959.1,1991.5 962.9,1989.8 966.6,1989.4 970.8,1989 974.2,1991.4 978,1988 981.7,1992.9 987,1993.1 989.3,1991.1 993,1989.6 996.8,1991.1 1000.6,1993.8 1003.5,1991.3 1008.1,1989.2 1011.9,1990.2 1015.7,1993.3 1019.4,1994.1 1023.2,1991.1 1027,1994.2 1030.7,1988.6 1036.2,1991.3 1038.3,1991.4 1042,1991.5 1045.8,1992.4 1049.6,1991 1053.4,1989.6 1057.1,1993.6 1060.9,1993.4 1064.7,1992.3 1068.9,1993.1 1072.2,1994.4 1076,1964.6 1080.3,1925.9 1083.5,1901.5 1088.5,1866.4 1091.1,1868.6 1095,1873.1 1098.6,1876.5 1101.6,1878 1106.1,1855.5 1108.1,1848.5 1109.9,1858.1 1114.7,1884.7 1117.5,1882.8 1121.2,1864.2 1124.5,1861.9 1128.8,1877 1131,1882.5 1136.3,1874.9 1139.2,1869.5 1143.8,1858.4 1145.7,1852.5 1147.6,1860.2 1152.3,1895 1155.2,1880.6 1158.8,1873.1 1162.7,1876.2 1167,1879.8 1170.2,1885.7 1174,1894.7 1177.8,1891.8 1180.1,1899.5 1185.3,1892 1189.1,1880 1192.8,1874.2 1196.4,1865.1 1200.4,1883.7 1203,1892.8 1209.5,1866.4 1211.7,1870.5 1215.5,1876.8 1219.3,1878 1223,1893.4 1226.8,1898.6 1230.5,1906.4 1232.4,1914.7 1234.3,1909.9 1238.1,1908.2 1241.9,1896.5 1243.9,1895 1245.6,1904.1 1249.4,1909.4 1253.2,1914.1 1255.3,1922.8" fill="none" stroke="#a95f22" stroke-width="3.7" stroke-opacity="1.0" stroke-linejoin="round" stroke-linecap="butt" />
<polyline points="801.5,1711.5 805.3,1790.2 808,1840.9 814.4,1866.8 816.6,1875.2 820.9,1897.7 824,1889.2 828.6,1903.1 831.2,1918.3 835.4,1923.9 837.7,1929.1 844.1,1938 847.6,1935.8 851.4,1807.8 854.3,1902.9 856.4,1972.5 862.9,1989.5 865.6,1990.4 869.4,1985.6 872.7,1986.4 876.9,1986.2 880.7,1989.6 884.4,1991.2 889,1993.1 892,1995 895.8,1996.9 899.5,1995 903.3,1994.1 905.4,1994.9 910.8,1998.6 914.6,1994.8 918.4,1999 921.8,1998 925.9,1999.2 929.7,2000 933.5,1993.6 938.1,1996.2 941,1994.9 944.8,1994.2 948.5,1996 952.3,1999.9 956.1,1998.3 959.8,1997.4 963.6,2000 967.4,1995 970.8,1998 974.9,1998.6 978.7,1999.7 982.5,1995.4 986.2,1999.5 990,1994.3 993.8,1997 997.5,1996.2 1001.3,1997.3 1003.5,1996.2 1008.9,1996.6 1012.6,1998.7 1016.4,1999.8 1020.2,1994.8 1023.9,1999 1027.7,1995.8 1031.5,1999.6 1036.2,1998 1039,1995.1 1042.8,1995.5 1046.5,1996.4 1050.3,1996.3 1054.1,1997.5 1057.9,1996.6 1061.6,2000.4 1065.4,1998.1 1068.9,1998 1072.2,1998 1076.7,1959.8 1080.3,1935.8 1085.3,1890.1 1088,1888.5 1091.8,1878.5 1096.7,1895 1099.3,1881.6 1101.6,1878.5 1106.5,1895 1111.4,1858.8 1114.4,1866.5 1118,1884.7 1122,1895.8 1124.5,1901.3 1129.4,1898.2 1133.3,1914 1136,1922.8 1140.8,1902.8 1142.5,1895 1144.6,1893.7 1148.3,1882.4 1150.7,1884.7 1155.6,1893.3 1159.7,1887.1 1163.7,1878.5 1167.2,1888.1 1170.3,1887 1174.7,1891.4 1176.8,1887 1180.1,1904.4 1182.3,1900 1186.6,1898.2 1189.8,1893.8 1193.2,1900 1197.3,1902.9 1199.7,1904.4 1206.3,1901.3 1208.7,1902.5 1212.8,1904.4 1216.2,1902.3 1219.3,1901.3 1224.2,1917.9 1227.5,1915.9 1232.4,1919.7 1235,1925.3 1238.8,1924.9 1242.2,1929.5 1246.4,1922.6 1248.7,1919.7 1255.3,1919.7" fill="none" stroke="#79bf76" stroke-width="3.7" stroke-opacity="1.0" stroke-linejoin="round" stroke-linecap="butt" />
<line x1="170.6" y1="1674" x2="170.6" y2="2020" stroke="#1a1a1a" stroke-width="1.8" stroke-linecap="butt" />
<line x1="169.7" y1="2019.2" x2="1256.5" y2="2019.2" stroke="#1a1a1a" stroke-width="1.8" stroke-linecap="butt" />
<line x1="163" y1="1737" x2="170.6" y2="1737" stroke="#1a1a1a" stroke-width="1.6" stroke-linecap="butt" />
<text x="153.8" y="1745.5" font-size="23" text-anchor="end" font-weight="normal" fill="#1a1a1a" >60</text>
<line x1="163" y1="1826.6" x2="170.6" y2="1826.6" stroke="#1a1a1a" stroke-width="1.6" stroke-linecap="butt" />
<text x="153.8" y="1835.1" font-size="23" text-anchor="end" font-weight="normal" fill="#1a1a1a" >40</text>
<line x1="163" y1="1916.1" x2="170.6" y2="1916.1" stroke="#1a1a1a" stroke-width="1.6" stroke-linecap="butt" />
<text x="153.8" y="1924.6" font-size="23" text-anchor="end" font-weight="normal" fill="#1a1a1a" >20</text>
<line x1="163" y1="2005.6" x2="170.6" y2="2005.6" stroke="#1a1a1a" stroke-width="1.6" stroke-linecap="butt" />
<text x="153.8" y="2014.1" font-size="23" text-anchor="end" font-weight="normal" fill="#1a1a1a" >0</text>
<line x1="305.7" y1="2019.2" x2="305.7" y2="2028" stroke="#1a1a1a" stroke-width="1.6" stroke-linecap="butt" />
<text x="305.7" y="2054.4" font-size="23" text-anchor="middle" font-weight="normal" fill="#1a1a1a" >14</text>
<line x1="532" y1="2019.2" x2="532" y2="2028" stroke="#1a1a1a" stroke-width="1.6" stroke-linecap="butt" />
<text x="532" y="2054.4" font-size="23" text-anchor="middle" font-weight="normal" fill="#1a1a1a" >0</text>
<line x1="848.6" y1="2019.2" x2="848.6" y2="2028" stroke="#1a1a1a" stroke-width="1.6" stroke-linecap="butt" />
<text x="848.6" y="2054.4" font-size="23" text-anchor="middle" font-weight="normal" fill="#1a1a1a" >14</text>
<line x1="1074.7" y1="2019.2" x2="1074.7" y2="2028" stroke="#1a1a1a" stroke-width="1.6" stroke-linecap="butt" />
<text x="1074.7" y="2054.4" font-size="23" text-anchor="middle" font-weight="normal" fill="#1a1a1a" >0</text>
<text transform="translate(102.8,1846.5) rotate(-90)" font-size="24.4" text-anchor="middle" font-weight="normal" fill="#111" >Average activity (s/10mins)</text>
<rect x="1101.4" y="1687.9" width="42.4" height="13.2" fill="#8cc98a" fill-opacity="1.0" stroke="none" stroke-width="0" />
<text x="1151.5" y="1700.3" font-size="25" text-anchor="start" font-weight="normal" fill="#111" >DMSO</text>
<rect x="1101.4" y="1720.5" width="42.4" height="12.5" fill="#ad6024" fill-opacity="1.0" stroke="none" stroke-width="0" />
<text x="1151.5" y="1735.2" font-size="25" text-anchor="start" font-weight="normal" fill="#111" >Clonidine</text>
<line x1="170.5" y1="2122.9" x2="659.8" y2="2019.8" stroke="#000" stroke-width="3.6" stroke-linecap="butt" stroke-dasharray="13.6,12"/>
<line x1="564.6" y1="2123.1" x2="759.5" y2="2023.7" stroke="#000" stroke-width="3.6" stroke-linecap="butt" stroke-dasharray="13.6,12"/>
<rect x="588" y="2056" width="226" height="37" fill="#fff" fill-opacity="1.0" stroke="none" stroke-width="0" />
<text x="701.5" y="2082" font-size="24.5" text-anchor="middle" font-weight="normal" fill="#111" >Zeitgeber Time (hr)</text>
<text transform="translate(1.8,2161.7) scale(0.984,1)" font-size="64" font-weight="bold" fill="#000">e</text>
<line x1="191.1" y1="2132" x2="191.1" y2="2444" stroke="#c4c4c4" stroke-width="2.2" stroke-linecap="butt" />
<line x1="230.4" y1="2132" x2="230.4" y2="2444" stroke="#c4c4c4" stroke-width="2.2" stroke-linecap="butt" />
<line x1="269.7" y1="2132" x2="269.7" y2="2444" stroke="#c4c4c4" stroke-width="2.2" stroke-linecap="butt" />
<line x1="309" y1="2132" x2="309" y2="2444" stroke="#c4c4c4" stroke-width="2.2" stroke-linecap="butt" />
<line x1="348.3" y1="2132" x2="348.3" y2="2444" stroke="#c4c4c4" stroke-width="2.2" stroke-linecap="butt" />
<line x1="387.5" y1="2132" x2="387.5" y2="2444" stroke="#c4c4c4" stroke-width="2.2" stroke-linecap="butt" />
<line x1="426.8" y1="2132" x2="426.8" y2="2444" stroke="#c4c4c4" stroke-width="2.2" stroke-linecap="butt" />
<line x1="466.1" y1="2132" x2="466.1" y2="2444" stroke="#c4c4c4" stroke-width="2.2" stroke-linecap="butt" />
<line x1="505.4" y1="2132" x2="505.4" y2="2444" stroke="#c4c4c4" stroke-width="2.2" stroke-linecap="butt" />
<line x1="544.7" y1="2132" x2="544.7" y2="2444" stroke="#c4c4c4" stroke-width="2.2" stroke-linecap="butt" />
<line x1="544.7" y1="2132" x2="544.7" y2="2444" stroke="#c4c4c4" stroke-width="2.2" stroke-linecap="butt" />
<polygon points="180.8,2212.5 182.1,2204.3 183.4,2238 184.7,2217.1 186,2234.8 187.3,2248.9 188.6,2229.1 190,2253.9 194.1,2151.6 195.4,2178.1 196.7,2194.2 198,2209.3 199.3,2223.8 200.6,2238.1 201.9,2240.8 203.3,2240.2 204.6,2263.1 205.9,2262.8 207.2,2266.8 208.5,2280.3 209.8,2288.3 211.1,2283 212.4,2293.8 213.7,2294.2 215,2304.9 216.3,2299.3 217.6,2300.7 219,2285.4 220.3,2277.9 221.6,2301.4 222.9,2298.1 224.2,2296.7 225.5,2308.6 226.8,2292.9 228.1,2309.4 229.4,2276.7 230.7,2272.3 232,2268.4 233.4,2175.7 234.7,2199.8 236,2211 237.3,2222 238.6,2251.1 239.9,2246.6 241.2,2267.3 242.5,2297 243.9,2286.2 245.2,2320.8 246.5,2326.2 247.8,2294.3 249.1,2293 250.4,2311.5 251.7,2311.7 253,2311.4 254.3,2311.2 255.6,2319.5 256.9,2326.1 258.2,2330.2 259.6,2306.8 260.9,2323 262.2,2324.7 263.5,2316.9 264.8,2318.7 266.1,2298 267.4,2290.2 268.7,2299.8 270,2314.3 271.3,2295.3 272.7,2191.6 274,2214.1 275.3,2257.4 276.6,2275.4 277.9,2281.1 279.2,2284.1 280.5,2302 281.8,2311.5 283.1,2308.7 284.5,2303.7 285.8,2328.6 287.1,2333 288.4,2341.6 289.7,2334.8 291,2317.7 292.3,2322.4 293.6,2337.5 294.9,2318.2 296.2,2314.8 297.5,2337.9 298.8,2336.8 300.2,2348.4 301.5,2330.9 302.8,2324 304.1,2313.9 305.4,2320.1 306.7,2314.1 308,2326.1 309.3,2322.5 310.6,2318.2 312,2188.4 313.3,2211.2 314.6,2249.7 315.9,2288.5 317.2,2287.7 318.5,2308.2 319.8,2334.1 321.1,2343.9 322.4,2352.5 323.7,2353.1 325.1,2349.7 326.4,2343.6 327.7,2338.3 329,2344.1 330.3,2328.5 331.6,2332.7 332.9,2342.5 334.2,2335.7 335.5,2350.7 336.8,2343.2 338.1,2353.5 339.4,2354.7 340.8,2356.7 342.1,2352.6 343.4,2314.3 344.7,2323 346,2311.7 347.3,2316.7 348.6,2321.4 349.9,2313 351.3,2207.9 352.6,2228.8 353.9,2256.3 355.2,2284.2 356.5,2319.4 357.8,2327.2 359.1,2328.9 360.4,2339.5 361.7,2343.3 363,2342.3 364.3,2337.8 365.7,2333.5 367,2343.2 368.3,2347.2 369.6,2339.5 370.9,2336.2 372.2,2346.9 373.5,2352.2 374.8,2336.8 376.1,2356.5 377.4,2353.5 378.7,2362.7 380,2345.3 381.4,2355.9 382.7,2339.3 384,2340.8 385.3,2345 386.6,2344.9 387.9,2341.5 389.2,2339.2 390.5,2221.3 391.9,2240.9 393.2,2273.2 394.5,2297.7 395.8,2316.8 397.1,2322.5 398.4,2330.8 399.7,2345.1 401,2339 402.3,2348.1 403.6,2374.9 404.9,2358.6 406.2,2366.8 407.6,2357.9 408.9,2344.9 410.2,2366.9 411.5,2365.4 412.8,2364.3 414.1,2366.1 415.4,2364.8 416.7,2365.3 418,2352.5 419.3,2374.5 420.6,2376.5 421.9,2359.9 423.3,2362.6 424.6,2350 425.9,2358 427.2,2365.9 428.5,2339.3 429.8,2218.5 431.1,2238.3 432.5,2273.1 433.8,2294.2 435.1,2313.4 436.4,2331.9 437.7,2330.8 439,2329.4 440.3,2356.9 441.6,2364.9 442.9,2361.4 444.2,2355.9 445.5,2341.7 446.8,2376.1 448.2,2375.8 449.5,2358.6 450.8,2362.8 452.1,2360.7 453.4,2351.8 454.7,2364.1 456,2365.8 457.3,2372 458.6,2383.7 459.9,2374.7 461.2,2376.9 462.5,2371.9 463.9,2364.7 465.2,2351.2 466.5,2354.1 467.8,2339.9 469.1,2215 470.4,2235.1 471.7,2275 473.1,2288.1 474.4,2312.4 475.7,2323 477,2358.5 478.3,2363.9 479.6,2365.9 480.9,2366.5 482.2,2378.2 483.5,2366.6 484.8,2374.4 486.1,2355.9 487.4,2346 488.8,2373.1 490.1,2387.8 491.4,2356.8 492.7,2358.9 494,2375 495.3,2381.1 496.6,2375.4 497.9,2366.2 499.2,2366.4 500.5,2374.4 501.8,2353.6 503.1,2362.8 504.5,2350.2 505.8,2338.9 507.1,2356.3 508.4,2225.6 509.7,2244.7 511,2285.1 512.3,2306.1 513.7,2320.7 515,2340 516.3,2338.8 517.6,2333.4 518.9,2352.2 520.2,2342.3 521.5,2340.7 522.8,2362.5 524.1,2356.3 525.4,2367.4 526.7,2341.9 528,2360.1 529.4,2381 530.7,2375.8 532,2350.8 533.3,2362 534.6,2362.4 535.9,2369.3 537.2,2372.1 538.5,2361.2 539.8,2376.4 541.1,2369.1 542.4,2358 543.7,2360.7 545.1,2366 546.4,2354.9 546,2370.7 547.3,2245.8 547.3,2275.5 546,2400.4 546.4,2384.6 545.1,2395.7 543.7,2390.5 542.4,2387.7 541.1,2398.8 539.8,2406.2 538.5,2391 537.2,2401.9 535.9,2399 534.6,2392.1 533.3,2391.8 532,2380.6 530.7,2405.5 529.4,2410.7 528,2389.8 526.7,2371.7 525.4,2397.2 524.1,2386 522.8,2392.2 521.5,2370.4 520.2,2372 518.9,2382 517.6,2363.1 516.3,2368.5 515,2369.7 513.7,2350.4 512.3,2335.8 511,2314.8 509.7,2274.4 508.4,2255.3 507.1,2386 505.8,2368.6 504.5,2379.9 503.1,2392.5 501.8,2383.4 500.5,2404.1 499.2,2396.2 497.9,2396 496.6,2405.1 495.3,2410.9 494,2404.7 492.7,2388.6 491.4,2386.6 490.1,2417.6 488.8,2402.9 487.4,2375.7 486.1,2385.6 484.8,2404.2 483.5,2396.3 482.2,2408 480.9,2396.2 479.6,2395.7 478.3,2393.6 477,2388.3 475.7,2352.8 474.4,2342.2 473.1,2317.8 471.7,2304.8 470.4,2264.9 469.1,2244.7 467.8,2369.7 466.5,2383.8 465.2,2381 463.9,2394.5 462.5,2401.7 461.2,2406.7 459.9,2404.5 458.6,2413.5 457.3,2401.7 456,2395.5 454.7,2393.8 453.4,2381.6 452.1,2390.4 450.8,2392.6 449.5,2388.3 448.2,2405.5 446.8,2405.9 445.5,2371.4 444.2,2385.6 442.9,2391.1 441.6,2394.6 440.3,2386.6 439,2359.2 437.7,2360.5 436.4,2361.7 435.1,2343.1 433.8,2323.9 432.5,2302.9 431.1,2268.1 429.8,2248.2 428.5,2369 427.2,2395.7 425.9,2387.8 424.6,2379.8 423.3,2392.3 421.9,2389.7 420.6,2406.2 419.3,2404.2 418,2382.2 416.7,2395.1 415.4,2394.5 414.1,2395.8 412.8,2394.1 411.5,2395.1 410.2,2396.6 408.9,2374.6 407.6,2387.7 406.2,2396.5 404.9,2388.3 403.6,2404.6 402.3,2377.8 401,2368.7 399.7,2374.9 398.4,2360.5 397.1,2352.2 395.8,2346.6 394.5,2327.4 393.2,2302.9 391.9,2270.6 390.5,2251.1 389.2,2368.9 387.9,2371.2 386.6,2374.6 385.3,2374.8 384,2370.5 382.7,2369 381.4,2385.6 380,2375.1 378.7,2392.4 377.4,2383.3 376.1,2386.2 374.8,2366.5 373.5,2381.9 372.2,2376.6 370.9,2366 369.6,2369.3 368.3,2377 367,2373 365.7,2363.3 364.3,2367.5 363,2372 361.7,2373 360.4,2369.2 359.1,2358.6 357.8,2356.9 356.5,2349.1 355.2,2314 353.9,2286.1 352.6,2258.5 351.3,2237.6 349.9,2342.8 348.6,2351.1 347.3,2346.5 346,2341.5 344.7,2352.7 343.4,2344 342.1,2382.4 340.8,2386.5 339.4,2384.4 338.1,2383.2 336.8,2372.9 335.5,2380.5 334.2,2365.5 332.9,2372.2 331.6,2362.4 330.3,2358.2 329,2373.8 327.7,2368.1 326.4,2373.3 325.1,2379.5 323.7,2382.8 322.4,2382.3 321.1,2373.6 319.8,2363.8 318.5,2338 317.2,2317.4 315.9,2318.2 314.6,2279.5 313.3,2241 312,2218.1 310.6,2347.9 309.3,2352.3 308,2355.8 306.7,2343.8 305.4,2349.8 304.1,2343.6 302.8,2353.8 301.5,2360.6 300.2,2378.1 298.8,2366.5 297.5,2367.7 296.2,2344.5 294.9,2347.9 293.6,2367.3 292.3,2352.1 291,2347.4 289.7,2364.6 288.4,2371.3 287.1,2362.7 285.8,2358.3 284.5,2333.5 283.1,2338.5 281.8,2341.2 280.5,2331.7 279.2,2313.9 277.9,2310.8 276.6,2305.1 275.3,2287.1 274,2243.8 272.7,2221.3 271.3,2325.1 270,2344 268.7,2329.6 267.4,2320 266.1,2327.7 264.8,2348.5 263.5,2346.7 262.2,2354.4 260.9,2352.7 259.6,2336.5 258.2,2359.9 256.9,2355.8 255.6,2349.3 254.3,2340.9 253,2341.1 251.7,2341.4 250.4,2341.3 249.1,2322.8 247.8,2324 246.5,2356 245.2,2350.5 243.9,2315.9 242.5,2326.7 241.2,2297.1 239.9,2276.3 238.6,2280.9 237.3,2251.8 236,2240.7 234.7,2229.5 233.4,2205.4 232,2298.1 230.7,2302 229.4,2306.4 228.1,2339.1 226.8,2322.6 225.5,2338.3 224.2,2326.5 222.9,2327.8 221.6,2331.2 220.3,2307.7 219,2315.2 217.6,2330.4 216.3,2329 215,2334.6 213.7,2323.9 212.4,2323.5 211.1,2312.8 209.8,2318 208.5,2310.1 207.2,2296.5 205.9,2292.5 204.6,2292.8 203.3,2270 201.9,2270.5 200.6,2267.8 199.3,2253.5 198,2239 196.7,2224 195.4,2207.8 194.1,2181.3 190,2283.6 188.6,2258.8 187.3,2278.7 186,2264.5 184.7,2246.8 183.4,2267.7 182.1,2234.1 180.8,2242.2" fill="#9bd89a" fill-opacity="0.33" stroke="none" stroke-width="0"/>
<polygon points="180.8,2377.1 182.1,2382.4 183.4,2386.6 184.7,2389.5 186,2394.1 187.3,2393 188.6,2394.8 190,2394.8 194.1,2270.2 195.4,2358.9 196.7,2367.1 198,2367.8 199.3,2384.9 200.6,2406.5 201.9,2400.2 203.3,2404.3 204.6,2394.4 205.9,2400.1 207.2,2400.3 208.5,2403.4 209.8,2400 211.1,2402.7 212.4,2404.5 213.7,2399.6 215,2405 216.3,2401.5 217.6,2398.4 219,2389.9 220.3,2404.1 221.6,2399 222.9,2405 224.2,2396.6 225.5,2401.8 226.8,2407.9 228.1,2401.9 229.4,2397.3 230.7,2400.2 232,2399.3 233.4,2286.1 234.7,2366.6 236,2377.8 237.3,2393 238.6,2396.8 239.9,2414.4 241.2,2406.5 242.5,2408.4 243.9,2408.8 245.2,2412.5 246.5,2409.4 247.8,2406.4 249.1,2413.4 250.4,2408 251.7,2408.4 253,2397.3 254.3,2408.9 255.6,2408.3 256.9,2410.3 258.2,2406.2 259.6,2418 260.9,2408.8 262.2,2406.6 263.5,2408.3 264.8,2409.3 266.1,2408.2 267.4,2413.1 268.7,2407.4 270,2410.2 271.3,2402.6 272.7,2274.8 274,2362.1 275.3,2380.2 276.6,2381.6 277.9,2402.5 279.2,2406.5 280.5,2401.7 281.8,2410.2 283.1,2409.3 284.5,2408.5 285.8,2410.3 287.1,2405.5 288.4,2412.9 289.7,2413.9 291,2413.6 292.3,2411.1 293.6,2406.2 294.9,2406.7 296.2,2412.5 297.5,2410.3 298.8,2413.3 300.2,2417.3 301.5,2410.1 302.8,2410.4 304.1,2412.4 305.4,2413.1 306.7,2407.7 308,2415.1 309.3,2406.9 310.6,2404.4 312,2281.5 313.3,2367.3 314.6,2384.3 315.9,2389.7 317.2,2398.3 318.5,2403.2 319.8,2411.8 321.1,2407.9 322.4,2410 323.7,2410.5 325.1,2416.5 326.4,2405.1 327.7,2411.3 329,2409.2 330.3,2407.3 331.6,2410.9 332.9,2411.3 334.2,2410.2 335.5,2407.2 336.8,2411.5 338.1,2410 339.4,2395.7 340.8,2402.1 342.1,2405.3 343.4,2405.6 344.7,2409.9 346,2408.1 347.3,2407 348.6,2412.1 349.9,2411.9 351.3,2285 352.6,2368.3 353.9,2382.4 355.2,2385.7 356.5,2401.3 357.8,2413.3 359.1,2408.1 360.4,2413.2 361.7,2410.1 363,2411.9 364.3,2411.7 365.7,2411.1 367,2405 368.3,2409.2 369.6,2405.6 370.9,2417.4 372.2,2416.1 373.5,2414.4 374.8,2413.1 376.1,2400.1 377.4,2410.9 378.7,2404.9 380,2412.1 381.4,2411.8 382.7,2413.3 384,2406.3 385.3,2407.7 386.6,2407.2 387.9,2413.1 389.2,2399.1 390.5,2303.8 391.9,2374.7 393.2,2382.1 394.5,2385.3 395.8,2406.5 397.1,2411.7 398.4,2409.7 399.7,2410.4 401,2412.8 402.3,2411.4 403.6,2409.8 404.9,2413.8 406.2,2414.6 407.6,2409.3 408.9,2405.5 410.2,2413.2 411.5,2409.6 412.8,2413.8 414.1,2410.8 415.4,2408.3 416.7,2412 418,2410.3 419.3,2408.9 420.6,2404.2 421.9,2407.5 423.3,2396.5 424.6,2408.6 425.9,2414.6 427.2,2410.1 428.5,2404.6 429.8,2295 431.1,2355.5 432.5,2388.6 433.8,2393.3 435.1,2400 436.4,2407.6 437.7,2406.2 439,2406.5 440.3,2398.6 441.6,2406.6 442.9,2411.3 444.2,2404.6 445.5,2410.7 446.8,2405.7 448.2,2411.6 449.5,2406 450.8,2404.4 452.1,2405.3 453.4,2408.2 454.7,2413 456,2403.6 457.3,2416 458.6,2407.2 459.9,2411.1 461.2,2403.7 462.5,2409.1 463.9,2412.4 465.2,2408 466.5,2412.1 467.8,2409.7 469.1,2299.9 470.4,2373.1 471.7,2383.7 473.1,2391.9 474.4,2401.9 475.7,2409.9 477,2414.8 478.3,2409.8 479.6,2400.7 480.9,2402.6 482.2,2411.9 483.5,2409 484.8,2409.5 486.1,2408.8 487.4,2410.7 488.8,2402.1 490.1,2406.7 491.4,2419.2 492.7,2410.5 494,2419.5 495.3,2416.6 496.6,2412.1 497.9,2403.9 499.2,2410 500.5,2415.9 501.8,2409.9 503.1,2410.1 504.5,2411.6 505.8,2413.1 507.1,2411.4 508.4,2309.1 509.7,2372.6 511,2380.6 512.3,2394.6 513.7,2392.4 515,2413.3 516.3,2409.6 517.6,2414.1 518.9,2414.2 520.2,2410.7 521.5,2407.8 522.8,2411.2 524.1,2409.9 525.4,2409.6 526.7,2410.6 528,2405.9 529.4,2403.6 530.7,2408.5 532,2406.6 533.3,2414 534.6,2408.9 535.9,2410 537.2,2410.9 538.5,2401.3 539.8,2415.1 541.1,2410.6 542.4,2408.2 543.7,2402.8 545.1,2404.4 546.4,2411.9 546,2417.8 547.3,2296.7 547.3,2306.6 546,2427.7 546.4,2421.8 545.1,2414.3 543.7,2412.7 542.4,2418.1 541.1,2420.5 539.8,2425.1 538.5,2411.2 537.2,2420.8 535.9,2419.9 534.6,2418.8 533.3,2423.9 532,2416.6 530.7,2418.4 529.4,2413.5 528,2415.8 526.7,2420.5 525.4,2419.5 524.1,2419.8 522.8,2421.1 521.5,2417.7 520.2,2420.6 518.9,2424.2 517.6,2424 516.3,2419.5 515,2423.2 513.7,2402.3 512.3,2404.5 511,2390.5 509.7,2382.5 508.4,2319 507.1,2421.3 505.8,2423 504.5,2421.5 503.1,2420.1 501.8,2419.8 500.5,2425.8 499.2,2419.9 497.9,2413.8 496.6,2422 495.3,2426.5 494,2429.4 492.7,2420.4 491.4,2429.2 490.1,2416.6 488.8,2412.1 487.4,2420.6 486.1,2418.7 484.8,2419.4 483.5,2418.9 482.2,2421.8 480.9,2412.5 479.6,2410.6 478.3,2419.7 477,2424.7 475.7,2419.8 474.4,2411.9 473.1,2401.9 471.7,2393.6 470.4,2383 469.1,2309.8 467.8,2419.6 466.5,2422 465.2,2417.9 463.9,2422.3 462.5,2419 461.2,2413.6 459.9,2421.1 458.6,2417.2 457.3,2426 456,2413.6 454.7,2422.9 453.4,2418.2 452.1,2415.2 450.8,2414.3 449.5,2415.9 448.2,2421.5 446.8,2415.6 445.5,2420.6 444.2,2414.5 442.9,2421.2 441.6,2416.5 440.3,2408.5 439,2416.4 437.7,2416.1 436.4,2417.5 435.1,2409.9 433.8,2403.2 432.5,2398.5 431.1,2365.4 429.8,2304.9 428.5,2414.5 427.2,2420 425.9,2424.5 424.6,2418.5 423.3,2406.4 421.9,2417.4 420.6,2414.1 419.3,2418.9 418,2420.2 416.7,2421.9 415.4,2418.2 414.1,2420.7 412.8,2423.7 411.5,2419.5 410.2,2423.1 408.9,2415.4 407.6,2419.2 406.2,2424.5 404.9,2423.7 403.6,2419.7 402.3,2421.4 401,2422.7 399.7,2420.3 398.4,2419.6 397.1,2421.6 395.8,2416.4 394.5,2395.2 393.2,2392 391.9,2384.6 390.5,2313.7 389.2,2409 387.9,2423 386.6,2417.2 385.3,2417.6 384,2416.2 382.7,2423.2 381.4,2421.7 380,2422 378.7,2414.8 377.4,2420.8 376.1,2410 374.8,2423 373.5,2424.3 372.2,2426 370.9,2427.3 369.6,2415.5 368.3,2419.1 367,2414.9 365.7,2421 364.3,2421.7 363,2421.8 361.7,2420 360.4,2423.1 359.1,2418 357.8,2423.2 356.5,2411.3 355.2,2395.6 353.9,2392.3 352.6,2378.2 351.3,2295 349.9,2421.8 348.6,2422 347.3,2416.9 346,2418 344.7,2419.9 343.4,2415.5 342.1,2415.2 340.8,2412 339.4,2405.6 338.1,2419.9 336.8,2421.4 335.5,2417.1 334.2,2420.1 332.9,2421.2 331.6,2420.8 330.3,2417.2 329,2419.1 327.7,2421.2 326.4,2415 325.1,2426.4 323.7,2420.4 322.4,2420 321.1,2417.8 319.8,2421.7 318.5,2413.1 317.2,2408.2 315.9,2399.6 314.6,2394.2 313.3,2377.2 312,2291.4 310.6,2414.3 309.3,2416.8 308,2425 306.7,2417.6 305.4,2423 304.1,2422.3 302.8,2420.3 301.5,2420 300.2,2427.2 298.8,2423.2 297.5,2420.2 296.2,2422.4 294.9,2416.6 293.6,2416.2 292.3,2421 291,2423.5 289.7,2423.8 288.4,2422.8 287.1,2415.4 285.8,2420.2 284.5,2418.4 283.1,2419.2 281.8,2420.1 280.5,2411.7 279.2,2416.4 277.9,2412.5 276.6,2391.5 275.3,2390.1 274,2372 272.7,2284.7 271.3,2412.5 270,2420.1 268.7,2417.3 267.4,2423 266.1,2418.1 264.8,2419.2 263.5,2418.2 262.2,2416.5 260.9,2418.7 259.6,2427.9 258.2,2416.1 256.9,2420.2 255.6,2418.2 254.3,2418.9 253,2407.3 251.7,2418.4 250.4,2417.9 249.1,2423.3 247.8,2416.3 246.5,2419.3 245.2,2422.4 243.9,2418.7 242.5,2418.4 241.2,2416.4 239.9,2424.3 238.6,2406.7 237.3,2402.9 236,2387.7 234.7,2376.5 233.4,2296 232,2409.2 230.7,2410.2 229.4,2407.2 228.1,2411.8 226.8,2417.8 225.5,2411.7 224.2,2406.5 222.9,2414.9 221.6,2408.9 220.3,2414 219,2399.8 217.6,2408.4 216.3,2411.4 215,2414.9 213.7,2409.6 212.4,2414.4 211.1,2412.7 209.8,2409.9 208.5,2413.3 207.2,2410.2 205.9,2410 204.6,2404.3 203.3,2414.2 201.9,2410.1 200.6,2416.5 199.3,2394.8 198,2377.7 196.7,2377 195.4,2368.9 194.1,2280.1 190,2404.7 188.6,2404.7 187.3,2402.9 186,2404 184.7,2399.4 183.4,2396.6 182.1,2392.3 180.8,2387" fill="#d9a27a" fill-opacity="0.4" stroke="none" stroke-width="0"/>
<polyline points="180.8,2227.3 182.1,2219.2 183.4,2252.8 184.7,2231.9 186,2249.6 187.3,2263.8 188.6,2244 190,2268.8 194.1,2166.5 195.4,2193 196.7,2209.1 198,2224.2 199.3,2238.6 200.6,2252.9 201.9,2255.6 203.3,2255.1 204.6,2278 205.9,2277.7 207.2,2281.7 208.5,2295.2 209.8,2303.2 211.1,2297.9 212.4,2308.6 213.7,2309.1 215,2319.8 216.3,2314.2 217.6,2315.5 219,2300.3 220.3,2292.8 221.6,2316.3 222.9,2312.9 224.2,2311.6 225.5,2323.4 226.8,2307.7 228.1,2324.3 229.4,2291.5 230.7,2287.1 232,2283.2 233.4,2190.5 234.7,2214.6 236,2225.8 237.3,2236.9 238.6,2266 239.9,2261.4 241.2,2282.2 242.5,2311.8 243.9,2301.1 245.2,2335.6 246.5,2341.1 247.8,2309.1 249.1,2307.9 250.4,2326.4 251.7,2326.5 253,2326.2 254.3,2326 255.6,2334.4 256.9,2340.9 258.2,2345 259.6,2321.6 260.9,2337.8 262.2,2339.6 263.5,2331.8 264.8,2333.6 266.1,2312.9 267.4,2305.1 268.7,2314.7 270,2329.2 271.3,2310.2 272.7,2206.5 274,2229 275.3,2272.3 276.6,2290.2 277.9,2296 279.2,2299 280.5,2316.9 281.8,2326.3 283.1,2323.6 284.5,2318.6 285.8,2343.5 287.1,2347.9 288.4,2356.5 289.7,2349.7 291,2332.5 292.3,2337.2 293.6,2352.4 294.9,2333.1 296.2,2329.6 297.5,2352.8 298.8,2351.6 300.2,2363.3 301.5,2345.7 302.8,2338.9 304.1,2328.7 305.4,2335 306.7,2329 308,2340.9 309.3,2337.4 310.6,2333.1 312,2203.3 313.3,2226.1 314.6,2264.6 315.9,2303.4 317.2,2302.6 318.5,2323.1 319.8,2348.9 321.1,2358.7 322.4,2367.4 323.7,2368 325.1,2364.6 326.4,2358.5 327.7,2353.2 329,2358.9 330.3,2343.4 331.6,2347.6 332.9,2357.4 334.2,2350.6 335.5,2365.6 336.8,2358.1 338.1,2368.3 339.4,2369.6 340.8,2371.6 342.1,2367.5 343.4,2329.2 344.7,2337.9 346,2326.6 347.3,2331.6 348.6,2336.2 349.9,2327.9 351.3,2222.7 352.6,2243.6 353.9,2271.2 355.2,2299.1 356.5,2334.3 357.8,2342.1 359.1,2343.7 360.4,2354.3 361.7,2358.2 363,2357.1 364.3,2352.7 365.7,2348.4 367,2358.1 368.3,2362.1 369.6,2354.4 370.9,2351.1 372.2,2361.8 373.5,2367 374.8,2351.7 376.1,2371.4 377.4,2368.4 378.7,2377.5 380,2360.2 381.4,2370.7 382.7,2354.2 384,2355.7 385.3,2359.9 386.6,2359.8 387.9,2356.4 389.2,2354.1 390.5,2236.2 391.9,2255.7 393.2,2288 394.5,2312.5 395.8,2331.7 397.1,2337.3 398.4,2345.7 399.7,2360 401,2353.9 402.3,2362.9 403.6,2389.8 404.9,2373.5 406.2,2381.7 407.6,2372.8 408.9,2359.7 410.2,2381.8 411.5,2380.2 412.8,2379.2 414.1,2381 415.4,2379.7 416.7,2380.2 418,2367.3 419.3,2389.4 420.6,2391.4 421.9,2374.8 423.3,2377.5 424.6,2364.9 425.9,2372.9 427.2,2380.8 428.5,2354.1 429.8,2233.4 431.1,2253.2 432.5,2288 433.8,2309.1 435.1,2328.2 436.4,2346.8 437.7,2345.7 439,2344.3 440.3,2371.7 441.6,2379.7 442.9,2376.3 444.2,2370.8 445.5,2356.5 446.8,2391 448.2,2390.7 449.5,2373.4 450.8,2377.7 452.1,2375.6 453.4,2366.7 454.7,2378.9 456,2380.6 457.3,2386.9 458.6,2398.6 459.9,2389.6 461.2,2391.8 462.5,2386.8 463.9,2379.6 465.2,2366.1 466.5,2369 467.8,2354.8 469.1,2229.8 470.4,2250 471.7,2289.9 473.1,2303 474.4,2327.3 475.7,2337.9 477,2373.4 478.3,2378.7 479.6,2380.8 480.9,2381.3 482.2,2393.1 483.5,2381.5 484.8,2389.3 486.1,2370.7 487.4,2360.8 488.8,2388 490.1,2402.7 491.4,2371.7 492.7,2373.7 494,2389.8 495.3,2396 496.6,2390.3 497.9,2381.1 499.2,2381.3 500.5,2389.3 501.8,2368.5 503.1,2377.6 504.5,2365 505.8,2353.7 507.1,2371.2 508.4,2240.4 509.7,2259.6 511,2300 512.3,2321 513.7,2335.5 515,2354.9 516.3,2353.7 517.6,2348.2 518.9,2367.1 520.2,2357.1 521.5,2355.6 522.8,2377.4 524.1,2371.2 525.4,2382.3 526.7,2356.8 528,2374.9 529.4,2395.9 530.7,2390.6 532,2365.7 533.3,2376.9 534.6,2377.3 535.9,2384.1 537.2,2387 538.5,2376.1 539.8,2391.3 541.1,2384 542.4,2372.9 543.7,2375.6 545.1,2380.9 546.4,2369.8 546,2385.6 547.3,2260.6" fill="none" stroke="#79bf76" stroke-width="3.4" stroke-opacity="1.0" stroke-linejoin="round" stroke-linecap="butt" />
<polyline points="180.8,2382 182.1,2387.3 183.4,2391.6 184.7,2394.4 186,2399 187.3,2398 188.6,2399.7 190,2399.7 194.1,2275.1 195.4,2363.9 196.7,2372 198,2372.7 199.3,2389.9 200.6,2411.5 201.9,2405.1 203.3,2409.2 204.6,2399.4 205.9,2405 207.2,2405.2 208.5,2408.3 209.8,2405 211.1,2407.7 212.4,2409.5 213.7,2404.6 215,2410 216.3,2406.5 217.6,2403.4 219,2394.9 220.3,2409.1 221.6,2403.9 222.9,2410 224.2,2401.5 225.5,2406.8 226.8,2412.8 228.1,2406.9 229.4,2402.2 230.7,2405.2 232,2404.3 233.4,2291.1 234.7,2371.5 236,2382.8 237.3,2398 238.6,2401.8 239.9,2419.3 241.2,2411.4 242.5,2413.4 243.9,2413.8 245.2,2417.4 246.5,2414.4 247.8,2411.4 249.1,2418.4 250.4,2412.9 251.7,2413.4 253,2402.3 254.3,2413.9 255.6,2413.3 256.9,2415.2 258.2,2411.1 259.6,2423 260.9,2413.7 262.2,2411.6 263.5,2413.3 264.8,2414.3 266.1,2413.2 267.4,2418 268.7,2412.3 270,2415.2 271.3,2407.5 272.7,2279.7 274,2367.1 275.3,2385.2 276.6,2386.6 277.9,2407.5 279.2,2411.4 280.5,2406.7 281.8,2415.1 283.1,2414.3 284.5,2413.5 285.8,2415.2 287.1,2410.5 288.4,2417.9 289.7,2418.8 291,2418.5 292.3,2416 293.6,2411.2 294.9,2411.6 296.2,2417.5 297.5,2415.3 298.8,2418.2 300.2,2422.2 301.5,2415 302.8,2415.4 304.1,2417.3 305.4,2418 306.7,2412.6 308,2420 309.3,2411.9 310.6,2409.3 312,2286.5 313.3,2372.3 314.6,2389.3 315.9,2394.6 317.2,2403.2 318.5,2408.1 319.8,2416.7 321.1,2412.9 322.4,2415 323.7,2415.4 325.1,2421.5 326.4,2410.1 327.7,2416.2 329,2414.1 330.3,2412.3 331.6,2415.8 332.9,2416.3 334.2,2415.1 335.5,2412.2 336.8,2416.4 338.1,2414.9 339.4,2400.6 340.8,2407 342.1,2410.3 343.4,2410.6 344.7,2414.9 346,2413.1 347.3,2411.9 348.6,2417.1 349.9,2416.8 351.3,2290 352.6,2373.3 353.9,2387.3 355.2,2390.6 356.5,2406.3 357.8,2418.3 359.1,2413 360.4,2418.2 361.7,2415.1 363,2416.8 364.3,2416.7 365.7,2416.1 367,2409.9 368.3,2414.2 369.6,2410.5 370.9,2422.4 372.2,2421.1 373.5,2419.3 374.8,2418 376.1,2405.1 377.4,2415.8 378.7,2409.8 380,2417 381.4,2416.7 382.7,2418.3 384,2411.3 385.3,2412.7 386.6,2412.2 387.9,2418 389.2,2404 390.5,2308.8 391.9,2379.7 393.2,2387 394.5,2390.2 395.8,2411.5 397.1,2416.6 398.4,2414.7 399.7,2415.4 401,2417.7 402.3,2416.4 403.6,2414.8 404.9,2418.8 406.2,2419.6 407.6,2414.2 408.9,2410.5 410.2,2418.2 411.5,2414.6 412.8,2418.8 414.1,2415.7 415.4,2413.2 416.7,2417 418,2415.2 419.3,2413.9 420.6,2409.2 421.9,2412.4 423.3,2401.4 424.6,2413.6 425.9,2419.6 427.2,2415 428.5,2409.5 429.8,2299.9 431.1,2360.5 432.5,2393.5 433.8,2398.3 435.1,2404.9 436.4,2412.5 437.7,2411.1 439,2411.4 440.3,2403.5 441.6,2411.5 442.9,2416.3 444.2,2409.6 445.5,2415.6 446.8,2410.7 448.2,2416.5 449.5,2410.9 450.8,2409.4 452.1,2410.3 453.4,2413.2 454.7,2418 456,2408.6 457.3,2421 458.6,2412.2 459.9,2416.1 461.2,2408.6 462.5,2414 463.9,2417.3 465.2,2413 466.5,2417.1 467.8,2414.6 469.1,2304.9 470.4,2378.1 471.7,2388.6 473.1,2396.9 474.4,2406.9 475.7,2414.9 477,2419.7 478.3,2414.8 479.6,2405.6 480.9,2407.6 482.2,2416.8 483.5,2414 484.8,2414.5 486.1,2413.7 487.4,2415.6 488.8,2407.1 490.1,2411.6 491.4,2424.2 492.7,2415.4 494,2424.4 495.3,2421.5 496.6,2417.1 497.9,2408.8 499.2,2415 500.5,2420.9 501.8,2414.9 503.1,2415.1 504.5,2416.5 505.8,2418 507.1,2416.3 508.4,2314.1 509.7,2377.6 511,2385.6 512.3,2399.5 513.7,2397.3 515,2418.3 516.3,2414.6 517.6,2419.1 518.9,2419.2 520.2,2415.7 521.5,2412.8 522.8,2416.1 524.1,2414.8 525.4,2414.5 526.7,2415.6 528,2410.8 529.4,2408.5 530.7,2413.5 532,2411.6 533.3,2419 534.6,2413.9 535.9,2415 537.2,2415.9 538.5,2406.2 539.8,2420.1 541.1,2415.6 542.4,2413.2 543.7,2407.8 545.1,2409.4 546.4,2416.9 546,2422.8 547.3,2301.7" fill="none" stroke="#a95f22" stroke-width="3.0" stroke-opacity="1.0" stroke-linejoin="round" stroke-linecap="butt" />
<rect x="289.7" y="2176.1" width="46.3" height="255.8" fill="none" fill-opacity="1.0" stroke="#000" stroke-width="2.8" />
<line x1="162.9" y1="2131.4" x2="162.9" y2="2445" stroke="#1a1a1a" stroke-width="1.8" stroke-linecap="butt" />
<line x1="162" y1="2444.4" x2="565.8" y2="2444.4" stroke="#1a1a1a" stroke-width="1.8" stroke-linecap="butt" />
<line x1="155.5" y1="2431.6" x2="162.9" y2="2431.6" stroke="#1a1a1a" stroke-width="1.6" stroke-linecap="butt" />
<text x="149.4" y="2440.6" font-size="23" text-anchor="end" font-weight="normal" fill="#1a1a1a" >0</text>
<line x1="155.5" y1="2360.8" x2="162.9" y2="2360.8" stroke="#1a1a1a" stroke-width="1.6" stroke-linecap="butt" />
<text x="149.4" y="2369.8" font-size="23" text-anchor="end" font-weight="normal" fill="#1a1a1a" >2</text>
<line x1="155.5" y1="2290" x2="162.9" y2="2290" stroke="#1a1a1a" stroke-width="1.6" stroke-linecap="butt" />
<text x="149.4" y="2299" font-size="23" text-anchor="end" font-weight="normal" fill="#1a1a1a" >4</text>
<line x1="155.5" y1="2219.2" x2="162.9" y2="2219.2" stroke="#1a1a1a" stroke-width="1.6" stroke-linecap="butt" />
<text x="149.4" y="2228.2" font-size="23" text-anchor="end" font-weight="normal" fill="#1a1a1a" >6</text>
<line x1="155.5" y1="2148.4" x2="162.9" y2="2148.4" stroke="#1a1a1a" stroke-width="1.6" stroke-linecap="butt" />
<text x="149.4" y="2157.4" font-size="23" text-anchor="end" font-weight="normal" fill="#1a1a1a" >8</text>
<line x1="233.3" y1="2444.4" x2="233.3" y2="2452" stroke="#1a1a1a" stroke-width="1.6" stroke-linecap="butt" />
<text x="233.3" y="2474.3" font-size="22" text-anchor="middle" font-weight="normal" fill="#1a1a1a" >6</text>
<line x1="390.4" y1="2444.4" x2="390.4" y2="2452" stroke="#1a1a1a" stroke-width="1.6" stroke-linecap="butt" />
<text x="390.4" y="2474.3" font-size="22" text-anchor="middle" font-weight="normal" fill="#1a1a1a" >8</text>
<line x1="547.4" y1="2444.4" x2="547.4" y2="2452" stroke="#1a1a1a" stroke-width="1.6" stroke-linecap="butt" />
<text x="547.4" y="2474.3" font-size="22" text-anchor="middle" font-weight="normal" fill="#1a1a1a" >10</text>
<text x="364.4" y="2513.3" font-size="24.5" text-anchor="middle" font-weight="normal" fill="#111" >Zeitgeber Time (hr)</text>
<text transform="translate(112.7,2287) rotate(-90)" font-size="24.5" text-anchor="middle" font-weight="normal" fill="#111" >Average activity (s/min)</text>
<rect x="416" y="2150.5" width="42.6" height="13" fill="#8cc98a" fill-opacity="1.0" stroke="none" stroke-width="0" />
<text x="466" y="2162.2" font-size="24.6" text-anchor="start" font-weight="normal" fill="#111" >DMSO</text>
<rect x="416" y="2182.5" width="42.6" height="13" fill="#ad6024" fill-opacity="1.0" stroke="none" stroke-width="0" />
<text x="466" y="2196.5" font-size="24.6" text-anchor="start" font-weight="normal" fill="#111" >Clonidine</text>
<text transform="translate(598.1,2161.7) scale(1.07,1)" font-size="63.7" font-weight="bold" fill="#000">f</text>
<rect x="773.6" y="2132.4" width="8.6" height="311.4" fill="#d4d4d4" fill-opacity="1.0" stroke="#bdbdbd" stroke-width="1" />
<polygon points="711.6,2320.3 718.6,2335.2 726.1,2312 734.1,2306.2 741.9,2314.1 749.9,2323.2 757.8,2310.8 766.1,2316.6 774,2305.4 781.6,2180.2 789.8,2140.4 797.3,2234.9 805.3,2279.3 813.3,2284.3 821.1,2309.1 828.9,2338.1 836.9,2343.5 845,2332.8 852.8,2321.6 860.6,2318.3 868.6,2310.4 876.6,2314.1 884.5,2354.7 892.3,2360.5 900.3,2333.6 908.3,2334 916.5,2327 916.5,2358.5 908.3,2365.5 900.3,2365.1 892.3,2392 884.5,2386.2 876.6,2345.6 868.6,2341.9 860.6,2349.8 852.8,2353.1 845,2364.3 836.9,2375 828.9,2369.7 821.1,2340.6 813.3,2315.8 805.3,2310.8 797.3,2284.7 789.8,2202.6 781.6,2205.1 774,2336.9 766.1,2348.1 757.8,2342.3 749.9,2354.7 741.9,2345.6 734.1,2337.7 726.1,2343.5 718.6,2366.7 711.6,2351.8" fill="#9bd89a" fill-opacity="0.35" stroke="none" stroke-width="0"/>
<polygon points="711.6,2406.5 718.6,2405.7 726.1,2410.3 734.1,2414.8 741.9,2411.1 749.9,2414 757.8,2408.6 766.1,2397.4 774,2408.6 781.6,2262.3 789.8,2310.4 797.3,2377.9 805.3,2399.1 813.3,2414.8 821.1,2405.7 828.9,2419.8 836.9,2403.6 845,2413.2 852.8,2412.3 860.6,2420.6 868.6,2418.6 876.6,2416.9 884.5,2418.6 892.3,2419.4 900.3,2421.5 908.3,2421.5 916.5,2416.1 916.5,2424.4 908.3,2429.8 900.3,2429.8 892.3,2427.7 884.5,2426.9 876.6,2425.2 868.6,2426.9 860.6,2428.9 852.8,2420.6 845,2421.5 836.9,2411.9 828.9,2428.1 821.1,2414 813.3,2423.1 805.3,2407.4 797.3,2398.7 789.8,2343.5 781.6,2270.6 774,2416.9 766.1,2405.7 757.8,2416.9 749.9,2422.3 741.9,2419.4 734.1,2423.1 726.1,2418.6 718.6,2414 711.6,2414.8" fill="#d9a27a" fill-opacity="0.4" stroke="none" stroke-width="0"/>
<polyline points="711.6,2336.1 718.6,2351 726.1,2327.8 734.1,2322 741.9,2329.9 749.9,2339 757.8,2326.5 766.1,2332.3 774,2321.2 781.6,2192.7 789.8,2171.5 797.3,2259.8 805.3,2295 813.3,2300 821.1,2324.9 828.9,2353.9 836.9,2359.3 845,2348.5 852.8,2337.3 860.6,2334 868.6,2326.1 876.6,2329.9 884.5,2370.5 892.3,2376.3 900.3,2349.3 908.3,2349.8 916.5,2342.7" fill="none" stroke="#79bf76" stroke-width="3.2" stroke-opacity="1.0" stroke-linejoin="round" stroke-linecap="butt" />
<polyline points="711.6,2410.7 718.6,2409.9 726.1,2414.4 734.1,2419 741.9,2415.2 749.9,2418.1 757.8,2412.8 766.1,2401.6 774,2412.8 781.6,2266.4 789.8,2327 797.3,2388.3 805.3,2403.2 813.3,2419 821.1,2409.9 828.9,2424 836.9,2407.8 845,2417.3 852.8,2416.5 860.6,2424.8 868.6,2422.7 876.6,2421 884.5,2422.7 892.3,2423.5 900.3,2425.6 908.3,2425.6 916.5,2420.2" fill="none" stroke="#a95f22" stroke-width="3.2" stroke-opacity="1.0" stroke-linejoin="round" stroke-linecap="butt" />
<line x1="711.6" y1="2131.6" x2="711.6" y2="2444.6" stroke="#1a1a1a" stroke-width="1.8" stroke-linecap="butt" />
<line x1="710.7" y1="2443.8" x2="936.3" y2="2443.8" stroke="#1a1a1a" stroke-width="1.8" stroke-linecap="butt" />
<line x1="704.5" y1="2436.8" x2="711.6" y2="2436.8" stroke="#1a1a1a" stroke-width="1.6" stroke-linecap="butt" />
<text x="697.5" y="2445.8" font-size="23" text-anchor="end" font-weight="normal" fill="#1a1a1a" >0</text>
<line x1="704.5" y1="2353.9" x2="711.6" y2="2353.9" stroke="#1a1a1a" stroke-width="1.6" stroke-linecap="butt" />
<text x="697.5" y="2362.9" font-size="23" text-anchor="end" font-weight="normal" fill="#1a1a1a" >2</text>
<line x1="704.5" y1="2271" x2="711.6" y2="2271" stroke="#1a1a1a" stroke-width="1.6" stroke-linecap="butt" />
<text x="697.5" y="2280" font-size="23" text-anchor="end" font-weight="normal" fill="#1a1a1a" >4</text>
<line x1="704.5" y1="2188.1" x2="711.6" y2="2188.1" stroke="#1a1a1a" stroke-width="1.6" stroke-linecap="butt" />
<text x="697.5" y="2197.1" font-size="23" text-anchor="end" font-weight="normal" fill="#1a1a1a" >6</text>
<line x1="781.6" y1="2443.8" x2="781.6" y2="2450" stroke="#1a1a1a" stroke-width="1.6" stroke-linecap="butt" />
<text x="781.6" y="2473.7" font-size="22" text-anchor="middle" font-weight="normal" fill="#1a1a1a" >7.0</text>
<line x1="876.6" y1="2443.8" x2="876.6" y2="2450" stroke="#1a1a1a" stroke-width="1.6" stroke-linecap="butt" />
<text x="876.6" y="2473.7" font-size="22" text-anchor="middle" font-weight="normal" fill="#1a1a1a" >7.2</text>
<text x="823.5" y="2512.8" font-size="24.5" text-anchor="middle" font-weight="normal" fill="#111" >Zeitgeber Time (hr)</text>
<text transform="translate(662.6,2293.3) rotate(-90)" font-size="24.5" text-anchor="middle" font-weight="normal" fill="#111" >Average activity (s/min)</text>
<text transform="translate(931.8,2162.8) scale(0.98,1)" font-size="63" font-weight="bold" fill="#000">g</text>
<defs><clipPath id="gclip"><rect x="1071" y="2120" width="250" height="330"/></clipPath></defs>
<g clip-path="url(#gclip)">
<polyline points="1034.2,2339.5 1077.5,2430.6 1120.9,2407.2 1164.2,2417.8 1207.5,2430.6 1250.8,2430.6 1294.1,2430.6 1337.4,2430.6" fill="none" stroke="#b8876a" stroke-width="2.6" stroke-opacity="1.0" stroke-linejoin="round" stroke-linecap="butt" />
<polyline points="1034.2,2430.6 1077.5,2430.6 1120.9,2430.6 1164.2,2407.2 1207.5,2416.6 1250.8,2424.8 1294.1,2428.3 1337.4,2428.3" fill="none" stroke="#f2c49a" stroke-width="2.6" stroke-opacity="1.0" stroke-linejoin="round" stroke-linecap="butt" />
<polyline points="1034.2,2430.6 1077.5,2430.6 1120.9,2407.2 1164.2,2386.2 1207.5,2430.6 1250.8,2416.6 1294.1,2428.3 1337.4,2425.9" fill="none" stroke="#d9946c" stroke-width="2.6" stroke-opacity="1.0" stroke-linejoin="round" stroke-linecap="butt" />
<polyline points="1034.2,2430.6 1077.5,2430.6 1120.9,2397.9 1164.2,2409.6 1207.5,2415.4 1250.8,2427.1 1294.1,2428.3 1337.4,2428.3" fill="none" stroke="#f0b788" stroke-width="2.6" stroke-opacity="1.0" stroke-linejoin="round" stroke-linecap="butt" />
<polyline points="1034.2,2430.6 1077.5,2430.6 1120.9,2373.4 1164.2,2407.2 1207.5,2430.6 1250.8,2430.6 1294.1,2430.6 1337.4,2430.6" fill="none" stroke="#e8a777" stroke-width="2.6" stroke-opacity="1.0" stroke-linejoin="round" stroke-linecap="butt" />
<polyline points="1034.2,2430.6 1077.5,2430.6 1120.9,2185.4 1164.2,2395.6 1207.5,2379.2 1250.8,2428.3 1294.1,2428.3 1337.4,2428.3" fill="none" stroke="#ef9f6e" stroke-width="2.6" stroke-opacity="1.0" stroke-linejoin="round" stroke-linecap="butt" />
<polyline points="1034.2,2430.6 1077.5,2430.6 1120.9,2345.4 1164.2,2413.1 1207.5,2430.6 1250.8,2430.6 1294.1,2430.6 1337.4,2430.6" fill="none" stroke="#3f3b38" stroke-width="2.6" stroke-opacity="1.0" stroke-linejoin="round" stroke-linecap="butt" />
<polyline points="1034.2,2430.6 1077.5,2430.6 1120.9,2313.8 1164.2,2402.6 1207.5,2430.6 1250.8,2430.6 1294.1,2430.6 1337.4,2430.6" fill="none" stroke="#c7825c" stroke-width="2.6" stroke-opacity="1.0" stroke-linejoin="round" stroke-linecap="butt" />
<polyline points="1034.2,2430.6 1077.5,2430.6 1120.9,2278.8 1164.2,2414.3 1207.5,2430.6 1250.8,2430.6 1294.1,2430.6 1337.4,2430.6" fill="none" stroke="#9c7058" stroke-width="2.6" stroke-opacity="1.0" stroke-linejoin="round" stroke-linecap="butt" />
<polyline points="1034.2,2430.6 1077.5,2430.6 1120.9,2283.5 1164.2,2292.8 1207.5,2400.2 1250.8,2428.3 1294.1,2427.1 1337.4,2428.3" fill="none" stroke="#6c5646" stroke-width="2.6" stroke-opacity="1.0" stroke-linejoin="round" stroke-linecap="butt" />
<polyline points="1034.2,2430.6 1077.5,2430.6 1120.9,2271.8 1164.2,2411.9 1207.5,2430.6 1250.8,2430.6 1294.1,2430.6 1337.4,2430.6" fill="none" stroke="#5b4637" stroke-width="2.6" stroke-opacity="1.0" stroke-linejoin="round" stroke-linecap="butt" />
<polyline points="1034.2,2430.6 1077.5,2430.6 1120.9,2393.2 1164.2,2303.3 1207.5,2327.9 1250.8,2344.2 1294.1,2381.6 1337.4,2360.5" fill="none" stroke="#65503f" stroke-width="2.6" stroke-opacity="1.0" stroke-linejoin="round" stroke-linecap="butt" />
</g>
<line x1="1070.8" y1="2128.1" x2="1070.8" y2="2445.4" stroke="#1a1a1a" stroke-width="1.8" stroke-linecap="butt" />
<line x1="1070" y1="2444.6" x2="1315" y2="2444.6" stroke="#1a1a1a" stroke-width="1.8" stroke-linecap="butt" />
<line x1="1064.5" y1="2430.6" x2="1070.8" y2="2430.6" stroke="#1a1a1a" stroke-width="1.6" stroke-linecap="butt" />
<text x="1057.2" y="2437.7" font-size="21" text-anchor="end" font-weight="normal" fill="#1a1a1a" >0</text>
<line x1="1064.5" y1="2383.9" x2="1070.8" y2="2383.9" stroke="#1a1a1a" stroke-width="1.6" stroke-linecap="butt" />
<text x="1057.2" y="2391" font-size="21" text-anchor="end" font-weight="normal" fill="#1a1a1a" >2</text>
<line x1="1064.5" y1="2337.2" x2="1070.8" y2="2337.2" stroke="#1a1a1a" stroke-width="1.6" stroke-linecap="butt" />
<text x="1057.2" y="2344.3" font-size="21" text-anchor="end" font-weight="normal" fill="#1a1a1a" >4</text>
<line x1="1064.5" y1="2290.5" x2="1070.8" y2="2290.5" stroke="#1a1a1a" stroke-width="1.6" stroke-linecap="butt" />
<text x="1057.2" y="2297.6" font-size="21" text-anchor="end" font-weight="normal" fill="#1a1a1a" >6</text>
<line x1="1064.5" y1="2243.8" x2="1070.8" y2="2243.8" stroke="#1a1a1a" stroke-width="1.6" stroke-linecap="butt" />
<text x="1057.2" y="2250.9" font-size="21" text-anchor="end" font-weight="normal" fill="#1a1a1a" >8</text>
<line x1="1064.5" y1="2197.1" x2="1070.8" y2="2197.1" stroke="#1a1a1a" stroke-width="1.6" stroke-linecap="butt" />
<text x="1057.2" y="2204.2" font-size="21" text-anchor="end" font-weight="normal" fill="#1a1a1a" >10</text>
<line x1="1064.5" y1="2150.4" x2="1070.8" y2="2150.4" stroke="#1a1a1a" stroke-width="1.6" stroke-linecap="butt" />
<text x="1057.2" y="2157.5" font-size="21" text-anchor="end" font-weight="normal" fill="#1a1a1a" >12</text>
<line x1="1122.2" y1="2444.6" x2="1122.2" y2="2451.5" stroke="#1a1a1a" stroke-width="1.6" stroke-linecap="butt" />
<text x="1122.2" y="2473.5" font-size="21" text-anchor="middle" font-weight="normal" fill="#1a1a1a" >7.00</text>
<line x1="1252.6" y1="2444.6" x2="1252.6" y2="2451.5" stroke="#1a1a1a" stroke-width="1.6" stroke-linecap="butt" />
<text x="1252.6" y="2473.5" font-size="21" text-anchor="middle" font-weight="normal" fill="#1a1a1a" >7.05</text>
<text x="1177.5" y="2513" font-size="24.5" text-anchor="middle" font-weight="normal" fill="#111" >Zeitgeber Time (hr)</text>
<text transform="translate(1008.9,2294.5) rotate(-90)" font-size="24.5" text-anchor="middle" font-weight="normal" fill="#111" >Activity (s/mins)</text>
</svg></body></html>
